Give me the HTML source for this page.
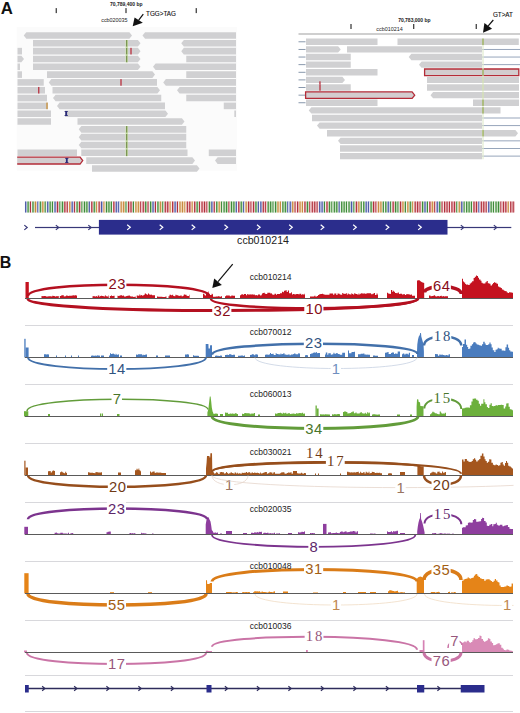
<!DOCTYPE html>
<html><head><meta charset="utf-8"><title>figure</title>
<style>
html,body{margin:0;padding:0;background:#fff;}
body{width:520px;height:713px;overflow:hidden;position:relative;font-family:"Liberation Sans",sans-serif;}
svg{position:absolute;left:0;top:0;display:block;}
</style></head><body>
<svg width="520" height="713" viewBox="0 0 520 713">
<defs><clipPath id="lclip"><rect x="17.2" y="20" width="230" height="160"/></clipPath></defs>
<rect x="16.8" y="27" width="220.2" height="143.6" fill="#fbfbfb"/>
<path d="M26.35 32.2 L129.4 32.2 L132 35.5 L129.4 38.8 L26.35 38.8 L23.75 35.5Z" fill="#d0d0d2"/>
<path d="M145.1 32.2 L236 32.2 L236 38.8 L145.1 38.8 L142.5 35.5Z" fill="#d0d0d2"/>
<path d="M33 40.02 L137.9 40.02 L140.5 43.32 L137.9 46.62 L33 46.62Z" fill="#d0d0d2"/>
<path d="M183.85 40.02 L236 40.02 L236 46.62 L183.85 46.62 L181.25 43.32Z" fill="#d0d0d2"/>
<path d="M17.5 47.84 L22 47.84 L22 54.44 L17.5 54.44Z" fill="#d0d0d2"/>
<path d="M33 47.84 L137.9 47.84 L140.5 51.14 L137.9 54.44 L33 54.44Z" fill="#d0d0d2"/>
<path d="M183.85 47.84 L236 47.84 L236 54.44 L183.85 54.44 L181.25 51.14Z" fill="#d0d0d2"/>
<path d="M17.5 55.66 L21.4 55.66 L24 58.96 L21.4 62.26 L17.5 62.26Z" fill="#d0d0d2"/>
<path d="M33 55.66 L137.9 55.66 L140.5 58.96 L137.9 62.26 L33 62.26Z" fill="#d0d0d2"/>
<path d="M186.25 55.66 L236 55.66 L236 62.26 L186.25 62.26Z" fill="#d0d0d2"/>
<path d="M17.5 63.48 L20 63.48 L20 70.08 L17.5 70.08Z" fill="#d0d0d2"/>
<path d="M33 63.48 L137.9 63.48 L140.5 66.78 L137.9 70.08 L33 70.08Z" fill="#d0d0d2"/>
<path d="M155.6 63.48 L236 63.48 L236 70.08 L155.6 70.08 L153 66.78Z" fill="#d0d0d2"/>
<path d="M17.5 71.3 L22 71.3 L22 77.9 L17.5 77.9Z" fill="#d0d0d2"/>
<path d="M47 71.3 L152.4 71.3 L155 74.6 L152.4 77.9 L47 77.9Z" fill="#d0d0d2"/>
<path d="M186.25 71.3 L236 71.3 L236 77.9 L186.25 77.9Z" fill="#d0d0d2"/>
<path d="M17.5 79.12 L43.75 79.12 L43.75 85.72 L17.5 85.72Z" fill="#d0d0d2"/>
<path d="M51.35 79.12 L157 79.12 L157 85.72 L51.35 85.72 L48.75 82.42Z" fill="#d0d0d2"/>
<path d="M165.85 79.12 L236 79.12 L236 85.72 L165.85 85.72 L163.25 82.42Z" fill="#d0d0d2"/>
<path d="M17.5 86.94 L45 86.94 L45 93.54 L17.5 93.54Z" fill="#d0d0d2"/>
<path d="M52.5 86.94 L157.4 86.94 L160 90.24 L157.4 93.54 L52.5 93.54Z" fill="#d0d0d2"/>
<path d="M179.6 86.94 L236 86.94 L236 93.54 L179.6 93.54 L177 90.24Z" fill="#d0d0d2"/>
<path d="M17.5 94.76 L47 94.76 L47 101.36 L17.5 101.36Z" fill="#d0d0d2"/>
<path d="M55.6 94.76 L161.25 94.76 L161.25 101.36 L55.6 101.36 L53 98.06Z" fill="#d0d0d2"/>
<path d="M186.25 94.76 L236 94.76 L236 101.36 L186.25 101.36Z" fill="#d0d0d2"/>
<path d="M17.5 102.58 L48 102.58 L48 109.18 L17.5 109.18Z" fill="#d0d0d2"/>
<path d="M59.6 102.58 L165 102.58 L165 109.18 L59.6 109.18 L57 105.88Z" fill="#d0d0d2"/>
<path d="M223.75 102.58 L236 102.58 L236 109.18 L223.75 109.18Z" fill="#d0d0d2"/>
<path d="M17.5 110.4 L51 110.4 L51 117 L17.5 117Z" fill="#d0d0d2"/>
<path d="M65 110.4 L165.4 110.4 L168 113.7 L165.4 117 L65 117Z" fill="#d0d0d2"/>
<path d="M234.3 110.4 L236 110.4 L236 117 L234.3 117Z" fill="#d0d0d2"/>
<path d="M17.5 118.22 L51 118.22 L51 124.82 L17.5 124.82Z" fill="#d0d0d2"/>
<path d="M77.5 118.22 L181.9 118.22 L184.5 121.52 L181.9 124.82 L77.5 124.82Z" fill="#d0d0d2"/>
<path d="M81.35 126.04 L186.25 126.04 L186.25 132.64 L81.35 132.64 L78.75 129.34Z" fill="#d0d0d2"/>
<path d="M81.35 133.86 L186.25 133.86 L186.25 140.46 L81.35 140.46 L78.75 137.16Z" fill="#d0d0d2"/>
<path d="M81.35 141.68 L186.25 141.68 L186.25 148.28 L81.35 148.28 L78.75 144.98Z" fill="#d0d0d2"/>
<path d="M17.5 149.5 L77 149.5 L77 156.1 L17.5 156.1Z" fill="#d0d0d2"/>
<path d="M81.25 149.5 L187.5 149.5 L187.5 156.1 L81.25 156.1Z" fill="#d0d0d2"/>
<path d="M208.75 149.5 L236 149.5 L236 156.1 L208.75 156.1Z" fill="#d0d0d2"/>
<path d="M12.1 157.22 L80.1 157.22 L82.7 160.62 L80.1 164.02 L12.1 164.02Z" fill="#d3cdcf" stroke="#b42c38" stroke-width="1.3" clip-path="url(#lclip)"/>
<path d="M86.25 157.32 L192.4 157.32 L195 160.62 L192.4 163.92 L86.25 163.92Z" fill="#d0d0d2"/>
<path d="M217.6 157.32 L236 157.32 L236 163.92 L217.6 163.92 L215 160.62Z" fill="#d0d0d2"/>
<path d="M92 165.14 L196.9 165.14 L199.5 168.44 L196.9 171.74 L92 171.74Z" fill="#d0d0d2"/>
<rect x="125.45" y="40.02" width="2.6" height="22.24" fill="#d4e8b8"/>
<rect x="125.45" y="126.04" width="2.6" height="30.06" fill="#d4e8b8"/>
<rect x="126.2" y="40.02" width="1.1" height="6.6" fill="#66803c"/>
<rect x="126.2" y="47.84" width="1.1" height="6.6" fill="#66803c"/>
<rect x="126.2" y="55.66" width="1.1" height="6.6" fill="#66803c"/>
<rect x="126.2" y="126.04" width="1.1" height="6.6" fill="#66803c"/>
<rect x="126.2" y="133.86" width="1.1" height="6.6" fill="#66803c"/>
<rect x="126.2" y="141.68" width="1.1" height="6.6" fill="#66803c"/>
<rect x="126.2" y="149.5" width="1.1" height="6.6" fill="#66803c"/>
<rect x="130.35" y="47.84" width="1.3" height="6.6" fill="#b83040"/>
<rect x="120.35" y="79.12" width="1.3" height="6.6" fill="#b83040"/>
<rect x="38.1" y="86.94" width="1.3" height="6.6" fill="#b83040"/>
<rect x="46.35" y="102.58" width="1.3" height="6.6" fill="#c8903a"/>
<rect x="65.3" y="111.2" width="1.8" height="4.6" fill="#2a2a78"/>
<rect x="64.6" y="111" width="3.2" height="0.9" fill="#2a2a78"/>
<rect x="64.6" y="115.1" width="3.2" height="0.9" fill="#2a2a78"/>
<rect x="65.9" y="158.12" width="1.8" height="4.6" fill="#2a2a78"/>
<rect x="65.2" y="157.92" width="3.2" height="0.9" fill="#2a2a78"/>
<rect x="65.2" y="162.02" width="3.2" height="0.9" fill="#2a2a78"/>
<rect x="298.5" y="33.2" width="221.5" height="1.6" fill="#c4c4c4"/>
<rect x="298.5" y="41.35" width="7" height="0.9" fill="#7d8ea4"/>
<rect x="298.5" y="48.97" width="7" height="0.9" fill="#7d8ea4"/>
<rect x="298.5" y="56.59" width="7" height="0.9" fill="#7d8ea4"/>
<rect x="298.5" y="64.21" width="7" height="0.9" fill="#7d8ea4"/>
<rect x="298.5" y="71.83" width="7" height="0.9" fill="#7d8ea4"/>
<rect x="298.5" y="79.45" width="7" height="0.9" fill="#7d8ea4"/>
<rect x="298.5" y="87.07" width="7" height="0.9" fill="#7d8ea4"/>
<rect x="298.5" y="94.69" width="7" height="0.9" fill="#7d8ea4"/>
<rect x="298.5" y="102.31" width="7" height="0.9" fill="#7d8ea4"/>
<rect x="482" y="48.97" width="38" height="0.9" fill="#8c9cb4"/>
<rect x="482" y="56.59" width="38" height="0.9" fill="#8c9cb4"/>
<rect x="482" y="64.21" width="38" height="0.9" fill="#8c9cb4"/>
<rect x="482" y="117.55" width="38" height="0.9" fill="#8c9cb4"/>
<rect x="482" y="125.17" width="38" height="0.9" fill="#8c9cb4"/>
<rect x="482" y="140.41" width="38" height="0.9" fill="#8c9cb4"/>
<rect x="482" y="148.03" width="38" height="0.9" fill="#8c9cb4"/>
<rect x="482" y="155.65" width="38" height="0.9" fill="#8c9cb4"/>
<path d="M306 38.6 L377.5 38.6 L377.5 45 L306 45Z" fill="#d0d0d2"/>
<path d="M397.5 38.6 L518.8 38.6 L518.8 45 L397.5 45Z" fill="#d0d0d2"/>
<path d="M306 46.22 L338.15 46.22 L340.75 49.42 L338.15 52.62 L306 52.62Z" fill="#d0d0d2"/>
<path d="M347 46.22 L482 46.22 L482 52.62 L347 52.62Z" fill="#d0d0d2"/>
<path d="M306 53.84 L350.75 53.84 L350.75 60.24 L306 60.24Z" fill="#d0d0d2"/>
<path d="M411.35 53.84 L482 53.84 L482 60.24 L411.35 60.24 L408.75 57.04Z" fill="#d0d0d2"/>
<path d="M306 61.46 L350.75 61.46 L350.75 67.86 L306 67.86Z" fill="#d0d0d2"/>
<path d="M421.6 61.46 L482 61.46 L482 67.86 L421.6 67.86 L419 64.66Z" fill="#d0d0d2"/>
<path d="M306 69.08 L377.5 69.08 L377.5 75.48 L306 75.48Z" fill="#d0d0d2"/>
<path d="M424.6 68.98 L518.8 68.98 L518.8 75.58 L424.6 75.58Z" fill="#d3cdcf" stroke="#b42c38" stroke-width="1.3"/>
<path d="M306 76.7 L342.4 76.7 L345 79.9 L342.4 83.1 L306 83.1Z" fill="#d0d0d2"/>
<path d="M427 76.7 L519 76.7 L519 83.1 L427 83.1Z" fill="#d0d0d2"/>
<path d="M306 84.32 L350.75 84.32 L350.75 90.72 L306 90.72Z" fill="#d0d0d2"/>
<path d="M427 84.32 L519 84.32 L519 90.72 L427 90.72Z" fill="#d0d0d2"/>
<path d="M305.6 91.84 L412.1 91.84 L414.7 95.14 L412.1 98.44 L305.6 98.44Z" fill="#d3cdcf" stroke="#b42c38" stroke-width="1.3"/>
<path d="M433.1 91.94 L519 91.94 L519 98.34 L433.1 98.34 L430.5 95.14Z" fill="#d0d0d2"/>
<path d="M306 99.56 L377.5 99.56 L377.5 105.96 L306 105.96Z" fill="#d0d0d2"/>
<path d="M473 99.56 L519 99.56 L519 105.96 L473 105.96Z" fill="#d0d0d2"/>
<path d="M311.35 107.18 L500.5 107.18 L500.5 113.58 L311.35 113.58 L308.75 110.38Z" fill="#d0d0d2"/>
<path d="M312 114.8 L482 114.8 L482 121.2 L312 121.2Z" fill="#d0d0d2"/>
<path d="M319.6 122.42 L482 122.42 L482 128.82 L319.6 128.82 L317 125.62Z" fill="#d0d0d2"/>
<path d="M327 130.04 L482 130.04 L482 136.44 L327 136.44Z" fill="#d0d0d2"/>
<path d="M483 130.04 L515.4 130.04 L518 133.24 L515.4 136.44 L483 136.44Z" fill="#d0d0d2"/>
<path d="M340.6 137.66 L482 137.66 L482 144.06 L340.6 144.06 L338 140.86Z" fill="#d0d0d2"/>
<path d="M340 145.28 L482 145.28 L482 151.68 L340 151.68Z" fill="#d0d0d2"/>
<path d="M340 152.9 L482 152.9 L482 159.3 L340 159.3Z" fill="#d0d0d2"/>
<rect x="482.4" y="38.6" width="1.2" height="120.7" fill="#e2ecd0"/>
<rect x="482.45" y="38.6" width="1.1" height="6.4" fill="#8aa040"/>
<rect x="482.45" y="69.08" width="1.1" height="6.4" fill="#8aa040"/>
<rect x="482.45" y="99.56" width="1.1" height="6.4" fill="#8aa040"/>
<rect x="482.45" y="107.18" width="1.1" height="6.4" fill="#8aa040"/>
<rect x="482.45" y="130.04" width="1.1" height="6.4" fill="#8aa040"/>
<rect x="482.6" y="76.7" width="0.8" height="6.4" fill="#c8d8a0"/>
<rect x="482.6" y="84.32" width="0.8" height="6.4" fill="#c8d8a0"/>
<rect x="482.6" y="91.94" width="0.8" height="6.4" fill="#c8d8a0"/>
<rect x="319.35" y="84.32" width="1.3" height="6.4" fill="#b83040"/>
<rect x="319.3" y="81.32" width="1.3" height="3" fill="#b83040"/>
<text x="0.8" y="13.8" font-family="Liberation Sans, sans-serif" font-size="16.8" font-weight="bold" fill="#111">A</text>
<rect x="55.65" y="8.1" width="1.2" height="5" fill="#333"/>
<rect x="125.4" y="8.1" width="1.2" height="5" fill="#333"/>
<rect x="195.65" y="8.1" width="1.2" height="5" fill="#333"/>
<text x="126.3" y="6.3" font-family="Liberation Sans, sans-serif" font-size="5" font-weight="bold" text-anchor="middle" fill="#222">70,789,400 bp</text>
<text x="114.4" y="22.4" font-family="Liberation Sans, sans-serif" font-size="5.4" text-anchor="middle" fill="#222">ccb020035</text>
<text x="146.1" y="16.3" font-family="Liberation Sans, sans-serif" font-size="6.3" fill="#111" stroke="#111" stroke-width="0.12">TGG&gt;TAG</text>
<rect x="350.4" y="24" width="1.2" height="5" fill="#333"/>
<rect x="413.1" y="24" width="1.2" height="5" fill="#333"/>
<rect x="475.65" y="24" width="1.2" height="5" fill="#333"/>
<text x="414.4" y="21.6" font-family="Liberation Sans, sans-serif" font-size="5" font-weight="bold" text-anchor="middle" fill="#222">70,783,000 bp</text>
<text x="389.5" y="30.8" font-family="Liberation Sans, sans-serif" font-size="5.4" text-anchor="middle" fill="#222">ccb010214</text>
<text x="492.9" y="16.6" font-family="Liberation Sans, sans-serif" font-size="6.3" fill="#111" stroke="#111" stroke-width="0.12">GT&gt;AT</text>
<line x1="143.3" y1="14.1" x2="138.7" y2="20.15" stroke="#111" stroke-width="1.2"/>
<path d="M132.7 26.3 L134.6 17.5 L142.8 22.8 Z" fill="#111"/>
<line x1="493.3" y1="20" x2="488.25" y2="25.9" stroke="#111" stroke-width="1.2"/>
<path d="M483 32.7 L484.4 23 L492.1 28.8 Z" fill="#111"/>
<rect x="24.9" y="201.5" width="2.45" height="11" fill="#c8cce8"/>
<rect x="25.05" y="201.5" width="1.15" height="11" fill="#4a5aa8"/>
<rect x="27.35" y="201.5" width="2.45" height="11" fill="#c4e0bc"/>
<rect x="27.5" y="201.5" width="1.15" height="11" fill="#3e8a3a"/>
<rect x="29.8" y="201.5" width="2.45" height="11" fill="#eec0c4"/>
<rect x="29.95" y="201.5" width="1.15" height="11" fill="#b0303c"/>
<rect x="31.2" y="201.5" width="0.9" height="11" fill="#fbf8f8"/>
<rect x="32.25" y="201.5" width="2.45" height="11" fill="#c4e0bc"/>
<rect x="32.4" y="201.5" width="1.15" height="11" fill="#3e8a3a"/>
<rect x="34.7" y="201.5" width="2.45" height="11" fill="#f0d8b8"/>
<rect x="34.85" y="201.5" width="1.15" height="11" fill="#c88a40"/>
<rect x="37.15" y="201.5" width="2.45" height="11" fill="#c8cce8"/>
<rect x="37.3" y="201.5" width="1.15" height="11" fill="#4a5aa8"/>
<rect x="38.55" y="201.5" width="0.9" height="11" fill="#fbf8f8"/>
<rect x="39.6" y="201.5" width="2.45" height="11" fill="#c4e0bc"/>
<rect x="39.75" y="201.5" width="1.15" height="11" fill="#3e8a3a"/>
<rect x="42.05" y="201.5" width="2.45" height="11" fill="#f0d8b8"/>
<rect x="42.2" y="201.5" width="1.15" height="11" fill="#c88a40"/>
<rect x="44.5" y="201.5" width="2.45" height="11" fill="#c4e0bc"/>
<rect x="44.65" y="201.5" width="1.15" height="11" fill="#3e8a3a"/>
<rect x="45.9" y="201.5" width="0.9" height="11" fill="#fbf8f8"/>
<rect x="46.95" y="201.5" width="2.45" height="11" fill="#c8cce8"/>
<rect x="47.1" y="201.5" width="1.15" height="11" fill="#4a5aa8"/>
<rect x="49.4" y="201.5" width="2.45" height="11" fill="#c4e0bc"/>
<rect x="49.55" y="201.5" width="1.15" height="11" fill="#3e8a3a"/>
<rect x="51.85" y="201.5" width="2.45" height="11" fill="#c4e0bc"/>
<rect x="52" y="201.5" width="1.15" height="11" fill="#3e8a3a"/>
<rect x="53.25" y="201.5" width="0.9" height="11" fill="#fbf8f8"/>
<rect x="54.3" y="201.5" width="2.45" height="11" fill="#c8cce8"/>
<rect x="54.45" y="201.5" width="1.15" height="11" fill="#4a5aa8"/>
<rect x="56.75" y="201.5" width="2.45" height="11" fill="#eec0c4"/>
<rect x="56.9" y="201.5" width="1.15" height="11" fill="#b0303c"/>
<rect x="59.2" y="201.5" width="2.45" height="11" fill="#c4e0bc"/>
<rect x="59.35" y="201.5" width="1.15" height="11" fill="#3e8a3a"/>
<rect x="60.6" y="201.5" width="0.9" height="11" fill="#fbf8f8"/>
<rect x="61.65" y="201.5" width="2.45" height="11" fill="#c4e0bc"/>
<rect x="61.8" y="201.5" width="1.15" height="11" fill="#3e8a3a"/>
<rect x="64.1" y="201.5" width="2.45" height="11" fill="#eec0c4"/>
<rect x="64.25" y="201.5" width="1.15" height="11" fill="#b0303c"/>
<rect x="66.55" y="201.5" width="2.45" height="11" fill="#eec0c4"/>
<rect x="66.7" y="201.5" width="1.15" height="11" fill="#b0303c"/>
<rect x="67.95" y="201.5" width="0.9" height="11" fill="#fbf8f8"/>
<rect x="69" y="201.5" width="2.45" height="11" fill="#f0d8b8"/>
<rect x="69.15" y="201.5" width="1.15" height="11" fill="#c88a40"/>
<rect x="71.45" y="201.5" width="2.45" height="11" fill="#c8cce8"/>
<rect x="71.6" y="201.5" width="1.15" height="11" fill="#4a5aa8"/>
<rect x="73.9" y="201.5" width="2.45" height="11" fill="#eec0c4"/>
<rect x="74.05" y="201.5" width="1.15" height="11" fill="#b0303c"/>
<rect x="75.3" y="201.5" width="0.9" height="11" fill="#fbf8f8"/>
<rect x="76.35" y="201.5" width="2.45" height="11" fill="#c4e0bc"/>
<rect x="76.5" y="201.5" width="1.15" height="11" fill="#3e8a3a"/>
<rect x="78.8" y="201.5" width="2.45" height="11" fill="#eec0c4"/>
<rect x="78.95" y="201.5" width="1.15" height="11" fill="#b0303c"/>
<rect x="81.25" y="201.5" width="2.45" height="11" fill="#c4e0bc"/>
<rect x="81.4" y="201.5" width="1.15" height="11" fill="#3e8a3a"/>
<rect x="82.65" y="201.5" width="0.9" height="11" fill="#fbf8f8"/>
<rect x="83.7" y="201.5" width="2.45" height="11" fill="#c4e0bc"/>
<rect x="83.85" y="201.5" width="1.15" height="11" fill="#3e8a3a"/>
<rect x="86.15" y="201.5" width="2.45" height="11" fill="#c4e0bc"/>
<rect x="86.3" y="201.5" width="1.15" height="11" fill="#3e8a3a"/>
<rect x="88.6" y="201.5" width="2.45" height="11" fill="#c8cce8"/>
<rect x="88.75" y="201.5" width="1.15" height="11" fill="#4a5aa8"/>
<rect x="90" y="201.5" width="0.9" height="11" fill="#fbf8f8"/>
<rect x="91.05" y="201.5" width="2.45" height="11" fill="#eec0c4"/>
<rect x="91.2" y="201.5" width="1.15" height="11" fill="#b0303c"/>
<rect x="93.5" y="201.5" width="2.45" height="11" fill="#c4e0bc"/>
<rect x="93.65" y="201.5" width="1.15" height="11" fill="#3e8a3a"/>
<rect x="95.95" y="201.5" width="2.45" height="11" fill="#f0d8b8"/>
<rect x="96.1" y="201.5" width="1.15" height="11" fill="#c88a40"/>
<rect x="97.35" y="201.5" width="0.9" height="11" fill="#fbf8f8"/>
<rect x="98.4" y="201.5" width="2.45" height="11" fill="#eec0c4"/>
<rect x="98.55" y="201.5" width="1.15" height="11" fill="#b0303c"/>
<rect x="100.85" y="201.5" width="2.45" height="11" fill="#c8cce8"/>
<rect x="101" y="201.5" width="1.15" height="11" fill="#4a5aa8"/>
<rect x="103.3" y="201.5" width="2.45" height="11" fill="#f0d8b8"/>
<rect x="103.45" y="201.5" width="1.15" height="11" fill="#c88a40"/>
<rect x="104.7" y="201.5" width="0.9" height="11" fill="#fbf8f8"/>
<rect x="105.75" y="201.5" width="2.45" height="11" fill="#c4e0bc"/>
<rect x="105.9" y="201.5" width="1.15" height="11" fill="#3e8a3a"/>
<rect x="108.2" y="201.5" width="2.45" height="11" fill="#c4e0bc"/>
<rect x="108.35" y="201.5" width="1.15" height="11" fill="#3e8a3a"/>
<rect x="110.65" y="201.5" width="2.45" height="11" fill="#c4e0bc"/>
<rect x="110.8" y="201.5" width="1.15" height="11" fill="#3e8a3a"/>
<rect x="112.05" y="201.5" width="0.9" height="11" fill="#fbf8f8"/>
<rect x="113.1" y="201.5" width="2.45" height="11" fill="#eec0c4"/>
<rect x="113.25" y="201.5" width="1.15" height="11" fill="#b0303c"/>
<rect x="115.55" y="201.5" width="2.45" height="11" fill="#c8cce8"/>
<rect x="115.7" y="201.5" width="1.15" height="11" fill="#4a5aa8"/>
<rect x="118" y="201.5" width="2.45" height="11" fill="#c8cce8"/>
<rect x="118.15" y="201.5" width="1.15" height="11" fill="#4a5aa8"/>
<rect x="119.4" y="201.5" width="0.9" height="11" fill="#fbf8f8"/>
<rect x="120.45" y="201.5" width="2.45" height="11" fill="#f0d8b8"/>
<rect x="120.6" y="201.5" width="1.15" height="11" fill="#c88a40"/>
<rect x="122.9" y="201.5" width="2.45" height="11" fill="#f0d8b8"/>
<rect x="123.05" y="201.5" width="1.15" height="11" fill="#c88a40"/>
<rect x="125.35" y="201.5" width="2.45" height="11" fill="#c4e0bc"/>
<rect x="125.5" y="201.5" width="1.15" height="11" fill="#3e8a3a"/>
<rect x="126.75" y="201.5" width="0.9" height="11" fill="#fbf8f8"/>
<rect x="127.8" y="201.5" width="2.45" height="11" fill="#eec0c4"/>
<rect x="127.95" y="201.5" width="1.15" height="11" fill="#b0303c"/>
<rect x="130.25" y="201.5" width="2.45" height="11" fill="#eec0c4"/>
<rect x="130.4" y="201.5" width="1.15" height="11" fill="#b0303c"/>
<rect x="132.7" y="201.5" width="2.45" height="11" fill="#c4e0bc"/>
<rect x="132.85" y="201.5" width="1.15" height="11" fill="#3e8a3a"/>
<rect x="134.1" y="201.5" width="0.9" height="11" fill="#fbf8f8"/>
<rect x="135.15" y="201.5" width="2.45" height="11" fill="#f0d8b8"/>
<rect x="135.3" y="201.5" width="1.15" height="11" fill="#c88a40"/>
<rect x="137.6" y="201.5" width="2.45" height="11" fill="#f0d8b8"/>
<rect x="137.75" y="201.5" width="1.15" height="11" fill="#c88a40"/>
<rect x="140.05" y="201.5" width="2.45" height="11" fill="#eec0c4"/>
<rect x="140.2" y="201.5" width="1.15" height="11" fill="#b0303c"/>
<rect x="141.45" y="201.5" width="0.9" height="11" fill="#fbf8f8"/>
<rect x="142.5" y="201.5" width="2.45" height="11" fill="#eec0c4"/>
<rect x="142.65" y="201.5" width="1.15" height="11" fill="#b0303c"/>
<rect x="144.95" y="201.5" width="2.45" height="11" fill="#c4e0bc"/>
<rect x="145.1" y="201.5" width="1.15" height="11" fill="#3e8a3a"/>
<rect x="147.4" y="201.5" width="2.45" height="11" fill="#eec0c4"/>
<rect x="147.55" y="201.5" width="1.15" height="11" fill="#b0303c"/>
<rect x="148.8" y="201.5" width="0.9" height="11" fill="#fbf8f8"/>
<rect x="149.85" y="201.5" width="2.45" height="11" fill="#c4e0bc"/>
<rect x="150" y="201.5" width="1.15" height="11" fill="#3e8a3a"/>
<rect x="152.3" y="201.5" width="2.45" height="11" fill="#c8cce8"/>
<rect x="152.45" y="201.5" width="1.15" height="11" fill="#4a5aa8"/>
<rect x="154.75" y="201.5" width="2.45" height="11" fill="#eec0c4"/>
<rect x="154.9" y="201.5" width="1.15" height="11" fill="#b0303c"/>
<rect x="156.15" y="201.5" width="0.9" height="11" fill="#fbf8f8"/>
<rect x="157.2" y="201.5" width="2.45" height="11" fill="#c4e0bc"/>
<rect x="157.35" y="201.5" width="1.15" height="11" fill="#3e8a3a"/>
<rect x="159.65" y="201.5" width="2.45" height="11" fill="#f0d8b8"/>
<rect x="159.8" y="201.5" width="1.15" height="11" fill="#c88a40"/>
<rect x="162.1" y="201.5" width="2.45" height="11" fill="#c4e0bc"/>
<rect x="162.25" y="201.5" width="1.15" height="11" fill="#3e8a3a"/>
<rect x="163.5" y="201.5" width="0.9" height="11" fill="#fbf8f8"/>
<rect x="164.55" y="201.5" width="2.45" height="11" fill="#eec0c4"/>
<rect x="164.7" y="201.5" width="1.15" height="11" fill="#b0303c"/>
<rect x="167" y="201.5" width="2.45" height="11" fill="#eec0c4"/>
<rect x="167.15" y="201.5" width="1.15" height="11" fill="#b0303c"/>
<rect x="169.45" y="201.5" width="2.45" height="11" fill="#f0d8b8"/>
<rect x="169.6" y="201.5" width="1.15" height="11" fill="#c88a40"/>
<rect x="170.85" y="201.5" width="0.9" height="11" fill="#fbf8f8"/>
<rect x="171.9" y="201.5" width="2.45" height="11" fill="#eec0c4"/>
<rect x="172.05" y="201.5" width="1.15" height="11" fill="#b0303c"/>
<rect x="174.35" y="201.5" width="2.45" height="11" fill="#c8cce8"/>
<rect x="174.5" y="201.5" width="1.15" height="11" fill="#4a5aa8"/>
<rect x="176.8" y="201.5" width="2.45" height="11" fill="#eec0c4"/>
<rect x="176.95" y="201.5" width="1.15" height="11" fill="#b0303c"/>
<rect x="178.2" y="201.5" width="0.9" height="11" fill="#fbf8f8"/>
<rect x="179.25" y="201.5" width="2.45" height="11" fill="#f0d8b8"/>
<rect x="179.4" y="201.5" width="1.15" height="11" fill="#c88a40"/>
<rect x="181.7" y="201.5" width="2.45" height="11" fill="#f0d8b8"/>
<rect x="181.85" y="201.5" width="1.15" height="11" fill="#c88a40"/>
<rect x="184.15" y="201.5" width="2.45" height="11" fill="#f0d8b8"/>
<rect x="184.3" y="201.5" width="1.15" height="11" fill="#c88a40"/>
<rect x="185.55" y="201.5" width="0.9" height="11" fill="#fbf8f8"/>
<rect x="186.6" y="201.5" width="2.45" height="11" fill="#eec0c4"/>
<rect x="186.75" y="201.5" width="1.15" height="11" fill="#b0303c"/>
<rect x="189.05" y="201.5" width="2.45" height="11" fill="#eec0c4"/>
<rect x="189.2" y="201.5" width="1.15" height="11" fill="#b0303c"/>
<rect x="191.5" y="201.5" width="2.45" height="11" fill="#f0d8b8"/>
<rect x="191.65" y="201.5" width="1.15" height="11" fill="#c88a40"/>
<rect x="192.9" y="201.5" width="0.9" height="11" fill="#fbf8f8"/>
<rect x="193.95" y="201.5" width="2.45" height="11" fill="#eec0c4"/>
<rect x="194.1" y="201.5" width="1.15" height="11" fill="#b0303c"/>
<rect x="196.4" y="201.5" width="2.45" height="11" fill="#c4e0bc"/>
<rect x="196.55" y="201.5" width="1.15" height="11" fill="#3e8a3a"/>
<rect x="198.85" y="201.5" width="2.45" height="11" fill="#eec0c4"/>
<rect x="199" y="201.5" width="1.15" height="11" fill="#b0303c"/>
<rect x="200.25" y="201.5" width="0.9" height="11" fill="#fbf8f8"/>
<rect x="201.3" y="201.5" width="2.45" height="11" fill="#eec0c4"/>
<rect x="201.45" y="201.5" width="1.15" height="11" fill="#b0303c"/>
<rect x="203.75" y="201.5" width="2.45" height="11" fill="#eec0c4"/>
<rect x="203.9" y="201.5" width="1.15" height="11" fill="#b0303c"/>
<rect x="206.2" y="201.5" width="2.45" height="11" fill="#eec0c4"/>
<rect x="206.35" y="201.5" width="1.15" height="11" fill="#b0303c"/>
<rect x="207.6" y="201.5" width="0.9" height="11" fill="#fbf8f8"/>
<rect x="208.65" y="201.5" width="2.45" height="11" fill="#c4e0bc"/>
<rect x="208.8" y="201.5" width="1.15" height="11" fill="#3e8a3a"/>
<rect x="211.1" y="201.5" width="2.45" height="11" fill="#c8cce8"/>
<rect x="211.25" y="201.5" width="1.15" height="11" fill="#4a5aa8"/>
<rect x="213.55" y="201.5" width="2.45" height="11" fill="#eec0c4"/>
<rect x="213.7" y="201.5" width="1.15" height="11" fill="#b0303c"/>
<rect x="214.95" y="201.5" width="0.9" height="11" fill="#fbf8f8"/>
<rect x="216" y="201.5" width="2.45" height="11" fill="#c4e0bc"/>
<rect x="216.15" y="201.5" width="1.15" height="11" fill="#3e8a3a"/>
<rect x="218.45" y="201.5" width="2.45" height="11" fill="#f0d8b8"/>
<rect x="218.6" y="201.5" width="1.15" height="11" fill="#c88a40"/>
<rect x="220.9" y="201.5" width="2.45" height="11" fill="#c4e0bc"/>
<rect x="221.05" y="201.5" width="1.15" height="11" fill="#3e8a3a"/>
<rect x="222.3" y="201.5" width="0.9" height="11" fill="#fbf8f8"/>
<rect x="223.35" y="201.5" width="2.45" height="11" fill="#c4e0bc"/>
<rect x="223.5" y="201.5" width="1.15" height="11" fill="#3e8a3a"/>
<rect x="225.8" y="201.5" width="2.45" height="11" fill="#c4e0bc"/>
<rect x="225.95" y="201.5" width="1.15" height="11" fill="#3e8a3a"/>
<rect x="228.25" y="201.5" width="2.45" height="11" fill="#eec0c4"/>
<rect x="228.4" y="201.5" width="1.15" height="11" fill="#b0303c"/>
<rect x="229.65" y="201.5" width="0.9" height="11" fill="#fbf8f8"/>
<rect x="230.7" y="201.5" width="2.45" height="11" fill="#c4e0bc"/>
<rect x="230.85" y="201.5" width="1.15" height="11" fill="#3e8a3a"/>
<rect x="233.15" y="201.5" width="2.45" height="11" fill="#c4e0bc"/>
<rect x="233.3" y="201.5" width="1.15" height="11" fill="#3e8a3a"/>
<rect x="235.6" y="201.5" width="2.45" height="11" fill="#c8cce8"/>
<rect x="235.75" y="201.5" width="1.15" height="11" fill="#4a5aa8"/>
<rect x="237" y="201.5" width="0.9" height="11" fill="#fbf8f8"/>
<rect x="238.05" y="201.5" width="2.45" height="11" fill="#eec0c4"/>
<rect x="238.2" y="201.5" width="1.15" height="11" fill="#b0303c"/>
<rect x="240.5" y="201.5" width="2.45" height="11" fill="#c4e0bc"/>
<rect x="240.65" y="201.5" width="1.15" height="11" fill="#3e8a3a"/>
<rect x="242.95" y="201.5" width="2.45" height="11" fill="#c8cce8"/>
<rect x="243.1" y="201.5" width="1.15" height="11" fill="#4a5aa8"/>
<rect x="244.35" y="201.5" width="0.9" height="11" fill="#fbf8f8"/>
<rect x="245.4" y="201.5" width="2.45" height="11" fill="#f0d8b8"/>
<rect x="245.55" y="201.5" width="1.15" height="11" fill="#c88a40"/>
<rect x="247.85" y="201.5" width="2.45" height="11" fill="#eec0c4"/>
<rect x="248" y="201.5" width="1.15" height="11" fill="#b0303c"/>
<rect x="250.3" y="201.5" width="2.45" height="11" fill="#eec0c4"/>
<rect x="250.45" y="201.5" width="1.15" height="11" fill="#b0303c"/>
<rect x="251.7" y="201.5" width="0.9" height="11" fill="#fbf8f8"/>
<rect x="252.75" y="201.5" width="2.45" height="11" fill="#eec0c4"/>
<rect x="252.9" y="201.5" width="1.15" height="11" fill="#b0303c"/>
<rect x="255.2" y="201.5" width="2.45" height="11" fill="#c4e0bc"/>
<rect x="255.35" y="201.5" width="1.15" height="11" fill="#3e8a3a"/>
<rect x="257.65" y="201.5" width="2.45" height="11" fill="#c8cce8"/>
<rect x="257.8" y="201.5" width="1.15" height="11" fill="#4a5aa8"/>
<rect x="259.05" y="201.5" width="0.9" height="11" fill="#fbf8f8"/>
<rect x="260.1" y="201.5" width="2.45" height="11" fill="#c8cce8"/>
<rect x="260.25" y="201.5" width="1.15" height="11" fill="#4a5aa8"/>
<rect x="262.55" y="201.5" width="2.45" height="11" fill="#eec0c4"/>
<rect x="262.7" y="201.5" width="1.15" height="11" fill="#b0303c"/>
<rect x="265" y="201.5" width="2.45" height="11" fill="#eec0c4"/>
<rect x="265.15" y="201.5" width="1.15" height="11" fill="#b0303c"/>
<rect x="266.4" y="201.5" width="0.9" height="11" fill="#fbf8f8"/>
<rect x="267.45" y="201.5" width="2.45" height="11" fill="#c4e0bc"/>
<rect x="267.6" y="201.5" width="1.15" height="11" fill="#3e8a3a"/>
<rect x="269.9" y="201.5" width="2.45" height="11" fill="#c4e0bc"/>
<rect x="270.05" y="201.5" width="1.15" height="11" fill="#3e8a3a"/>
<rect x="272.35" y="201.5" width="2.45" height="11" fill="#c4e0bc"/>
<rect x="272.5" y="201.5" width="1.15" height="11" fill="#3e8a3a"/>
<rect x="273.75" y="201.5" width="0.9" height="11" fill="#fbf8f8"/>
<rect x="274.8" y="201.5" width="2.45" height="11" fill="#c4e0bc"/>
<rect x="274.95" y="201.5" width="1.15" height="11" fill="#3e8a3a"/>
<rect x="277.25" y="201.5" width="2.45" height="11" fill="#f0d8b8"/>
<rect x="277.4" y="201.5" width="1.15" height="11" fill="#c88a40"/>
<rect x="279.7" y="201.5" width="2.45" height="11" fill="#f0d8b8"/>
<rect x="279.85" y="201.5" width="1.15" height="11" fill="#c88a40"/>
<rect x="281.1" y="201.5" width="0.9" height="11" fill="#fbf8f8"/>
<rect x="282.15" y="201.5" width="2.45" height="11" fill="#c4e0bc"/>
<rect x="282.3" y="201.5" width="1.15" height="11" fill="#3e8a3a"/>
<rect x="284.6" y="201.5" width="2.45" height="11" fill="#c4e0bc"/>
<rect x="284.75" y="201.5" width="1.15" height="11" fill="#3e8a3a"/>
<rect x="287.05" y="201.5" width="2.45" height="11" fill="#c8cce8"/>
<rect x="287.2" y="201.5" width="1.15" height="11" fill="#4a5aa8"/>
<rect x="288.45" y="201.5" width="0.9" height="11" fill="#fbf8f8"/>
<rect x="289.5" y="201.5" width="2.45" height="11" fill="#c8cce8"/>
<rect x="289.65" y="201.5" width="1.15" height="11" fill="#4a5aa8"/>
<rect x="291.95" y="201.5" width="2.45" height="11" fill="#f0d8b8"/>
<rect x="292.1" y="201.5" width="1.15" height="11" fill="#c88a40"/>
<rect x="294.4" y="201.5" width="2.45" height="11" fill="#eec0c4"/>
<rect x="294.55" y="201.5" width="1.15" height="11" fill="#b0303c"/>
<rect x="295.8" y="201.5" width="0.9" height="11" fill="#fbf8f8"/>
<rect x="296.85" y="201.5" width="2.45" height="11" fill="#eec0c4"/>
<rect x="297" y="201.5" width="1.15" height="11" fill="#b0303c"/>
<rect x="299.3" y="201.5" width="2.45" height="11" fill="#f0d8b8"/>
<rect x="299.45" y="201.5" width="1.15" height="11" fill="#c88a40"/>
<rect x="301.75" y="201.5" width="2.45" height="11" fill="#f0d8b8"/>
<rect x="301.9" y="201.5" width="1.15" height="11" fill="#c88a40"/>
<rect x="303.15" y="201.5" width="0.9" height="11" fill="#fbf8f8"/>
<rect x="304.2" y="201.5" width="2.45" height="11" fill="#eec0c4"/>
<rect x="304.35" y="201.5" width="1.15" height="11" fill="#b0303c"/>
<rect x="306.65" y="201.5" width="2.45" height="11" fill="#c4e0bc"/>
<rect x="306.8" y="201.5" width="1.15" height="11" fill="#3e8a3a"/>
<rect x="309.1" y="201.5" width="2.45" height="11" fill="#eec0c4"/>
<rect x="309.25" y="201.5" width="1.15" height="11" fill="#b0303c"/>
<rect x="310.5" y="201.5" width="0.9" height="11" fill="#fbf8f8"/>
<rect x="311.55" y="201.5" width="2.45" height="11" fill="#eec0c4"/>
<rect x="311.7" y="201.5" width="1.15" height="11" fill="#b0303c"/>
<rect x="314" y="201.5" width="2.45" height="11" fill="#eec0c4"/>
<rect x="314.15" y="201.5" width="1.15" height="11" fill="#b0303c"/>
<rect x="316.45" y="201.5" width="2.45" height="11" fill="#eec0c4"/>
<rect x="316.6" y="201.5" width="1.15" height="11" fill="#b0303c"/>
<rect x="317.85" y="201.5" width="0.9" height="11" fill="#fbf8f8"/>
<rect x="318.9" y="201.5" width="2.45" height="11" fill="#c8cce8"/>
<rect x="319.05" y="201.5" width="1.15" height="11" fill="#4a5aa8"/>
<rect x="321.35" y="201.5" width="2.45" height="11" fill="#c8cce8"/>
<rect x="321.5" y="201.5" width="1.15" height="11" fill="#4a5aa8"/>
<rect x="323.8" y="201.5" width="2.45" height="11" fill="#c4e0bc"/>
<rect x="323.95" y="201.5" width="1.15" height="11" fill="#3e8a3a"/>
<rect x="325.2" y="201.5" width="0.9" height="11" fill="#fbf8f8"/>
<rect x="326.25" y="201.5" width="2.45" height="11" fill="#eec0c4"/>
<rect x="326.4" y="201.5" width="1.15" height="11" fill="#b0303c"/>
<rect x="328.7" y="201.5" width="2.45" height="11" fill="#c4e0bc"/>
<rect x="328.85" y="201.5" width="1.15" height="11" fill="#3e8a3a"/>
<rect x="331.15" y="201.5" width="2.45" height="11" fill="#c4e0bc"/>
<rect x="331.3" y="201.5" width="1.15" height="11" fill="#3e8a3a"/>
<rect x="332.55" y="201.5" width="0.9" height="11" fill="#fbf8f8"/>
<rect x="333.6" y="201.5" width="2.45" height="11" fill="#c4e0bc"/>
<rect x="333.75" y="201.5" width="1.15" height="11" fill="#3e8a3a"/>
<rect x="336.05" y="201.5" width="2.45" height="11" fill="#c4e0bc"/>
<rect x="336.2" y="201.5" width="1.15" height="11" fill="#3e8a3a"/>
<rect x="338.5" y="201.5" width="2.45" height="11" fill="#c8cce8"/>
<rect x="338.65" y="201.5" width="1.15" height="11" fill="#4a5aa8"/>
<rect x="339.9" y="201.5" width="0.9" height="11" fill="#fbf8f8"/>
<rect x="340.95" y="201.5" width="2.45" height="11" fill="#c4e0bc"/>
<rect x="341.1" y="201.5" width="1.15" height="11" fill="#3e8a3a"/>
<rect x="343.4" y="201.5" width="2.45" height="11" fill="#c4e0bc"/>
<rect x="343.55" y="201.5" width="1.15" height="11" fill="#3e8a3a"/>
<rect x="345.85" y="201.5" width="2.45" height="11" fill="#c4e0bc"/>
<rect x="346" y="201.5" width="1.15" height="11" fill="#3e8a3a"/>
<rect x="347.25" y="201.5" width="0.9" height="11" fill="#fbf8f8"/>
<rect x="348.3" y="201.5" width="2.45" height="11" fill="#c4e0bc"/>
<rect x="348.45" y="201.5" width="1.15" height="11" fill="#3e8a3a"/>
<rect x="350.75" y="201.5" width="2.45" height="11" fill="#c8cce8"/>
<rect x="350.9" y="201.5" width="1.15" height="11" fill="#4a5aa8"/>
<rect x="353.2" y="201.5" width="2.45" height="11" fill="#c4e0bc"/>
<rect x="353.35" y="201.5" width="1.15" height="11" fill="#3e8a3a"/>
<rect x="354.6" y="201.5" width="0.9" height="11" fill="#fbf8f8"/>
<rect x="355.65" y="201.5" width="2.45" height="11" fill="#eec0c4"/>
<rect x="355.8" y="201.5" width="1.15" height="11" fill="#b0303c"/>
<rect x="358.1" y="201.5" width="2.45" height="11" fill="#f0d8b8"/>
<rect x="358.25" y="201.5" width="1.15" height="11" fill="#c88a40"/>
<rect x="360.55" y="201.5" width="2.45" height="11" fill="#c4e0bc"/>
<rect x="360.7" y="201.5" width="1.15" height="11" fill="#3e8a3a"/>
<rect x="361.95" y="201.5" width="0.9" height="11" fill="#fbf8f8"/>
<rect x="363" y="201.5" width="2.45" height="11" fill="#c4e0bc"/>
<rect x="363.15" y="201.5" width="1.15" height="11" fill="#3e8a3a"/>
<rect x="365.45" y="201.5" width="2.45" height="11" fill="#c8cce8"/>
<rect x="365.6" y="201.5" width="1.15" height="11" fill="#4a5aa8"/>
<rect x="367.9" y="201.5" width="2.45" height="11" fill="#c8cce8"/>
<rect x="368.05" y="201.5" width="1.15" height="11" fill="#4a5aa8"/>
<rect x="369.3" y="201.5" width="0.9" height="11" fill="#fbf8f8"/>
<rect x="370.35" y="201.5" width="2.45" height="11" fill="#c4e0bc"/>
<rect x="370.5" y="201.5" width="1.15" height="11" fill="#3e8a3a"/>
<rect x="372.8" y="201.5" width="2.45" height="11" fill="#eec0c4"/>
<rect x="372.95" y="201.5" width="1.15" height="11" fill="#b0303c"/>
<rect x="375.25" y="201.5" width="2.45" height="11" fill="#eec0c4"/>
<rect x="375.4" y="201.5" width="1.15" height="11" fill="#b0303c"/>
<rect x="376.65" y="201.5" width="0.9" height="11" fill="#fbf8f8"/>
<rect x="377.7" y="201.5" width="2.45" height="11" fill="#f0d8b8"/>
<rect x="377.85" y="201.5" width="1.15" height="11" fill="#c88a40"/>
<rect x="380.15" y="201.5" width="2.45" height="11" fill="#f0d8b8"/>
<rect x="380.3" y="201.5" width="1.15" height="11" fill="#c88a40"/>
<rect x="382.6" y="201.5" width="2.45" height="11" fill="#c4e0bc"/>
<rect x="382.75" y="201.5" width="1.15" height="11" fill="#3e8a3a"/>
<rect x="384" y="201.5" width="0.9" height="11" fill="#fbf8f8"/>
<rect x="385.05" y="201.5" width="2.45" height="11" fill="#c4e0bc"/>
<rect x="385.2" y="201.5" width="1.15" height="11" fill="#3e8a3a"/>
<rect x="387.5" y="201.5" width="2.45" height="11" fill="#c8cce8"/>
<rect x="387.65" y="201.5" width="1.15" height="11" fill="#4a5aa8"/>
<rect x="389.95" y="201.5" width="2.45" height="11" fill="#c4e0bc"/>
<rect x="390.1" y="201.5" width="1.15" height="11" fill="#3e8a3a"/>
<rect x="391.35" y="201.5" width="0.9" height="11" fill="#fbf8f8"/>
<rect x="392.4" y="201.5" width="2.45" height="11" fill="#eec0c4"/>
<rect x="392.55" y="201.5" width="1.15" height="11" fill="#b0303c"/>
<rect x="394.85" y="201.5" width="2.45" height="11" fill="#c4e0bc"/>
<rect x="395" y="201.5" width="1.15" height="11" fill="#3e8a3a"/>
<rect x="397.3" y="201.5" width="2.45" height="11" fill="#c4e0bc"/>
<rect x="397.45" y="201.5" width="1.15" height="11" fill="#3e8a3a"/>
<rect x="398.7" y="201.5" width="0.9" height="11" fill="#fbf8f8"/>
<rect x="399.75" y="201.5" width="2.45" height="11" fill="#eec0c4"/>
<rect x="399.9" y="201.5" width="1.15" height="11" fill="#b0303c"/>
<rect x="402.2" y="201.5" width="2.45" height="11" fill="#f0d8b8"/>
<rect x="402.35" y="201.5" width="1.15" height="11" fill="#c88a40"/>
<rect x="404.65" y="201.5" width="2.45" height="11" fill="#c4e0bc"/>
<rect x="404.8" y="201.5" width="1.15" height="11" fill="#3e8a3a"/>
<rect x="406.05" y="201.5" width="0.9" height="11" fill="#fbf8f8"/>
<rect x="407.1" y="201.5" width="2.45" height="11" fill="#f0d8b8"/>
<rect x="407.25" y="201.5" width="1.15" height="11" fill="#c88a40"/>
<rect x="409.55" y="201.5" width="2.45" height="11" fill="#c4e0bc"/>
<rect x="409.7" y="201.5" width="1.15" height="11" fill="#3e8a3a"/>
<rect x="412" y="201.5" width="2.45" height="11" fill="#f0d8b8"/>
<rect x="412.15" y="201.5" width="1.15" height="11" fill="#c88a40"/>
<rect x="413.4" y="201.5" width="0.9" height="11" fill="#fbf8f8"/>
<rect x="414.45" y="201.5" width="2.45" height="11" fill="#eec0c4"/>
<rect x="414.6" y="201.5" width="1.15" height="11" fill="#b0303c"/>
<rect x="416.9" y="201.5" width="2.45" height="11" fill="#eec0c4"/>
<rect x="417.05" y="201.5" width="1.15" height="11" fill="#b0303c"/>
<rect x="419.35" y="201.5" width="2.45" height="11" fill="#eec0c4"/>
<rect x="419.5" y="201.5" width="1.15" height="11" fill="#b0303c"/>
<rect x="420.75" y="201.5" width="0.9" height="11" fill="#fbf8f8"/>
<rect x="421.8" y="201.5" width="2.45" height="11" fill="#c4e0bc"/>
<rect x="421.95" y="201.5" width="1.15" height="11" fill="#3e8a3a"/>
<rect x="424.25" y="201.5" width="2.45" height="11" fill="#c8cce8"/>
<rect x="424.4" y="201.5" width="1.15" height="11" fill="#4a5aa8"/>
<rect x="426.7" y="201.5" width="2.45" height="11" fill="#c4e0bc"/>
<rect x="426.85" y="201.5" width="1.15" height="11" fill="#3e8a3a"/>
<rect x="428.1" y="201.5" width="0.9" height="11" fill="#fbf8f8"/>
<rect x="429.15" y="201.5" width="2.45" height="11" fill="#eec0c4"/>
<rect x="429.3" y="201.5" width="1.15" height="11" fill="#b0303c"/>
<rect x="431.6" y="201.5" width="2.45" height="11" fill="#f0d8b8"/>
<rect x="431.75" y="201.5" width="1.15" height="11" fill="#c88a40"/>
<rect x="434.05" y="201.5" width="2.45" height="11" fill="#eec0c4"/>
<rect x="434.2" y="201.5" width="1.15" height="11" fill="#b0303c"/>
<rect x="435.45" y="201.5" width="0.9" height="11" fill="#fbf8f8"/>
<rect x="436.5" y="201.5" width="2.45" height="11" fill="#c8cce8"/>
<rect x="436.65" y="201.5" width="1.15" height="11" fill="#4a5aa8"/>
<rect x="438.95" y="201.5" width="2.45" height="11" fill="#c4e0bc"/>
<rect x="439.1" y="201.5" width="1.15" height="11" fill="#3e8a3a"/>
<rect x="441.4" y="201.5" width="2.45" height="11" fill="#eec0c4"/>
<rect x="441.55" y="201.5" width="1.15" height="11" fill="#b0303c"/>
<rect x="442.8" y="201.5" width="0.9" height="11" fill="#fbf8f8"/>
<rect x="443.85" y="201.5" width="2.45" height="11" fill="#eec0c4"/>
<rect x="444" y="201.5" width="1.15" height="11" fill="#b0303c"/>
<rect x="446.3" y="201.5" width="2.45" height="11" fill="#eec0c4"/>
<rect x="446.45" y="201.5" width="1.15" height="11" fill="#b0303c"/>
<rect x="448.75" y="201.5" width="2.45" height="11" fill="#eec0c4"/>
<rect x="448.9" y="201.5" width="1.15" height="11" fill="#b0303c"/>
<rect x="450.15" y="201.5" width="0.9" height="11" fill="#fbf8f8"/>
<rect x="451.2" y="201.5" width="2.45" height="11" fill="#eec0c4"/>
<rect x="451.35" y="201.5" width="1.15" height="11" fill="#b0303c"/>
<rect x="453.65" y="201.5" width="2.45" height="11" fill="#eec0c4"/>
<rect x="453.8" y="201.5" width="1.15" height="11" fill="#b0303c"/>
<rect x="456.1" y="201.5" width="2.45" height="11" fill="#c4e0bc"/>
<rect x="456.25" y="201.5" width="1.15" height="11" fill="#3e8a3a"/>
<rect x="457.5" y="201.5" width="0.9" height="11" fill="#fbf8f8"/>
<rect x="458.55" y="201.5" width="2.45" height="11" fill="#f0d8b8"/>
<rect x="458.7" y="201.5" width="1.15" height="11" fill="#c88a40"/>
<rect x="461" y="201.5" width="2.45" height="11" fill="#c8cce8"/>
<rect x="461.15" y="201.5" width="1.15" height="11" fill="#4a5aa8"/>
<rect x="463.45" y="201.5" width="2.45" height="11" fill="#c4e0bc"/>
<rect x="463.6" y="201.5" width="1.15" height="11" fill="#3e8a3a"/>
<rect x="464.85" y="201.5" width="0.9" height="11" fill="#fbf8f8"/>
<rect x="465.9" y="201.5" width="2.45" height="11" fill="#c4e0bc"/>
<rect x="466.05" y="201.5" width="1.15" height="11" fill="#3e8a3a"/>
<rect x="468.35" y="201.5" width="2.45" height="11" fill="#c4e0bc"/>
<rect x="468.5" y="201.5" width="1.15" height="11" fill="#3e8a3a"/>
<rect x="470.8" y="201.5" width="2.45" height="11" fill="#c4e0bc"/>
<rect x="470.95" y="201.5" width="1.15" height="11" fill="#3e8a3a"/>
<rect x="472.2" y="201.5" width="0.9" height="11" fill="#fbf8f8"/>
<rect x="473.25" y="201.5" width="2.45" height="11" fill="#eec0c4"/>
<rect x="473.4" y="201.5" width="1.15" height="11" fill="#b0303c"/>
<rect x="475.7" y="201.5" width="2.45" height="11" fill="#eec0c4"/>
<rect x="475.85" y="201.5" width="1.15" height="11" fill="#b0303c"/>
<rect x="478.15" y="201.5" width="2.45" height="11" fill="#c8cce8"/>
<rect x="478.3" y="201.5" width="1.15" height="11" fill="#4a5aa8"/>
<rect x="479.55" y="201.5" width="0.9" height="11" fill="#fbf8f8"/>
<rect x="480.6" y="201.5" width="2.45" height="11" fill="#eec0c4"/>
<rect x="480.75" y="201.5" width="1.15" height="11" fill="#b0303c"/>
<rect x="483.05" y="201.5" width="2.45" height="11" fill="#eec0c4"/>
<rect x="483.2" y="201.5" width="1.15" height="11" fill="#b0303c"/>
<rect x="485.5" y="201.5" width="2.45" height="11" fill="#eec0c4"/>
<rect x="485.65" y="201.5" width="1.15" height="11" fill="#b0303c"/>
<rect x="486.9" y="201.5" width="0.9" height="11" fill="#fbf8f8"/>
<rect x="487.95" y="201.5" width="2.45" height="11" fill="#c8cce8"/>
<rect x="488.1" y="201.5" width="1.15" height="11" fill="#4a5aa8"/>
<rect x="490.4" y="201.5" width="2.45" height="11" fill="#c4e0bc"/>
<rect x="490.55" y="201.5" width="1.15" height="11" fill="#3e8a3a"/>
<rect x="492.85" y="201.5" width="2.45" height="11" fill="#c4e0bc"/>
<rect x="493" y="201.5" width="1.15" height="11" fill="#3e8a3a"/>
<rect x="494.25" y="201.5" width="0.9" height="11" fill="#fbf8f8"/>
<rect x="495.3" y="201.5" width="2.45" height="11" fill="#c4e0bc"/>
<rect x="495.45" y="201.5" width="1.15" height="11" fill="#3e8a3a"/>
<rect x="497.75" y="201.5" width="2.45" height="11" fill="#c4e0bc"/>
<rect x="497.9" y="201.5" width="1.15" height="11" fill="#3e8a3a"/>
<rect x="500.2" y="201.5" width="2.45" height="11" fill="#eec0c4"/>
<rect x="500.35" y="201.5" width="1.15" height="11" fill="#b0303c"/>
<rect x="501.6" y="201.5" width="0.9" height="11" fill="#fbf8f8"/>
<rect x="502.65" y="201.5" width="2.45" height="11" fill="#eec0c4"/>
<rect x="502.8" y="201.5" width="1.15" height="11" fill="#b0303c"/>
<rect x="505.1" y="201.5" width="2.45" height="11" fill="#eec0c4"/>
<rect x="505.25" y="201.5" width="1.15" height="11" fill="#b0303c"/>
<rect x="507.55" y="201.5" width="2.45" height="11" fill="#f0d8b8"/>
<rect x="507.7" y="201.5" width="1.15" height="11" fill="#c88a40"/>
<rect x="508.95" y="201.5" width="0.9" height="11" fill="#fbf8f8"/>
<rect x="510" y="201.5" width="2.45" height="11" fill="#eec0c4"/>
<rect x="510.15" y="201.5" width="1.15" height="11" fill="#b0303c"/>
<rect x="512.45" y="201.5" width="2.45" height="11" fill="#eec0c4"/>
<rect x="512.6" y="201.5" width="1.15" height="11" fill="#b0303c"/>
<rect x="35" y="226.9" width="476.3" height="1.2" fill="#383878"/>
<path d="M24.32 225.1 L27.2 227.5 L24.32 229.9" fill="none" stroke="#383878" stroke-width="1.2" stroke-linejoin="miter"/>
<path d="M55.82 225.1 L58.7 227.5 L55.82 229.9" fill="none" stroke="#383878" stroke-width="1.2" stroke-linejoin="miter"/>
<path d="M88.32 225.1 L91.2 227.5 L88.32 229.9" fill="none" stroke="#383878" stroke-width="1.2" stroke-linejoin="miter"/>
<path d="M460.82 225.1 L463.7 227.5 L460.82 229.9" fill="none" stroke="#383878" stroke-width="1.2" stroke-linejoin="miter"/>
<path d="M493.82 225.1 L496.7 227.5 L493.82 229.9" fill="none" stroke="#383878" stroke-width="1.2" stroke-linejoin="miter"/>
<rect x="98.9" y="219.9" width="348.6" height="14.7" fill="#2b2d8c"/>
<path d="M127.18 224.7 L130.3 227.3 L127.18 229.9" fill="none" stroke="#ffffff" stroke-width="1.2" stroke-linejoin="miter"/>
<path d="M159.68 224.7 L162.8 227.3 L159.68 229.9" fill="none" stroke="#ffffff" stroke-width="1.2" stroke-linejoin="miter"/>
<path d="M191.68 224.7 L194.8 227.3 L191.68 229.9" fill="none" stroke="#ffffff" stroke-width="1.2" stroke-linejoin="miter"/>
<path d="M224.48 224.7 L227.6 227.3 L224.48 229.9" fill="none" stroke="#ffffff" stroke-width="1.2" stroke-linejoin="miter"/>
<path d="M256.98 224.7 L260.1 227.3 L256.98 229.9" fill="none" stroke="#ffffff" stroke-width="1.2" stroke-linejoin="miter"/>
<path d="M289.18 224.7 L292.3 227.3 L289.18 229.9" fill="none" stroke="#ffffff" stroke-width="1.2" stroke-linejoin="miter"/>
<path d="M320.68 224.7 L323.8 227.3 L320.68 229.9" fill="none" stroke="#ffffff" stroke-width="1.2" stroke-linejoin="miter"/>
<path d="M353.18 224.7 L356.3 227.3 L353.18 229.9" fill="none" stroke="#ffffff" stroke-width="1.2" stroke-linejoin="miter"/>
<path d="M385.68 224.7 L388.8 227.3 L385.68 229.9" fill="none" stroke="#ffffff" stroke-width="1.2" stroke-linejoin="miter"/>
<path d="M418.18 224.7 L421.3 227.3 L418.18 229.9" fill="none" stroke="#ffffff" stroke-width="1.2" stroke-linejoin="miter"/>
<text x="263" y="244.2" font-family="Liberation Sans, sans-serif" font-size="10.6" text-anchor="middle" fill="#222">ccb010214</text>
<text x="-0.3" y="267.6" font-family="Liberation Sans, sans-serif" font-size="16" font-weight="bold" fill="#111">B</text>
<defs><clipPath id="pc"><rect x="20" y="240" width="493.5" height="440"/></clipPath></defs>
<rect x="25" y="325" width="488" height="1" fill="#d8d8dc"/>
<rect x="25" y="384" width="488" height="1" fill="#d8d8dc"/>
<rect x="25" y="443" width="488" height="1" fill="#d8d8dc"/>
<rect x="25" y="502" width="488" height="1" fill="#d8d8dc"/>
<rect x="25" y="561" width="488" height="1" fill="#d8d8dc"/>
<rect x="25" y="620" width="488" height="1" fill="#d8d8dc"/>
<rect x="25" y="675" width="488" height="1" fill="#d8d8dc"/>
<rect x="25" y="711" width="488" height="1" fill="#d8d8dc"/>
<rect x="25.5" y="282" width="3.3" height="16.5" fill="#c4121f"/>
<path d="M41.5 298.5 L41.5 296.11 L42.5 296.11 L42.5 296.33 L43.5 296.33 L43.5 296.07 L45 296.07 L45 296.09 L45.8 296.09 L45.8 296.44 L47.3 296.44 L47.3 296.51 L48.3 296.51 L48.3 296.16 L49.8 296.16 L49.8 296.3 L51.3 296.3 L51.3 296.47 L52.3 296.47 L52.3 295.83 L53.3 295.83 L53.3 295.96 L54.8 295.96 L54.8 296.54 L55.6 296.54 L55.6 296.4 L56.4 296.4 L56.4 295.88 L57.2 295.88 L57.2 296.23 L58.4 296.23 L58.4 295.99 L58.8 295.99 L58.8 298.5 Z" fill="#c4121f"/>
<path d="M59.8 298.5 L59.8 295.95 L61.3 295.95 L61.3 295.15 L62.8 295.15 L62.8 295.27 L63.8 295.27 L63.8 296.45 L64.6 296.45 L64.6 296.2 L66.1 296.2 L66.1 295.41 L67.6 295.41 L67.6 295.91 L68.8 295.91 L68.8 295.7 L70.3 295.7 L70.3 295.68 L71.8 295.68 L71.8 295.55 L73 295.55 L73 295.3 L73.8 295.3 L73.8 295.52 L74.8 295.52 L74.8 295.15 L76 295.15 L76 295.5 L76.8 295.5 L76.8 295.61 L77 295.61 L77 298.5 Z" fill="#c4121f"/>
<path d="M92.5 298.5 L92.5 296.24 L93.7 296.24 L93.7 295.93 L94.5 295.93 L94.5 296.56 L96 296.56 L96 296.04 L96.8 296.04 L96.8 296.67 L97.8 296.67 L97.8 295.47 L99.3 295.47 L99.3 296.63 L100.1 296.63 L100.1 296.1 L100.9 296.1 L100.9 295.82 L102.1 295.82 L102.1 295.89 L103.3 295.89 L103.3 296.2 L104.1 296.2 L104.1 296.53 L104.9 296.53 L104.9 295.18 L105.7 295.18 L105.7 296.23 L107.2 296.23 L107.2 296.45 L108.4 296.45 L108.4 295.13 L108.8 295.13 L108.8 298.5 Z" fill="#c4121f"/>
<path d="M109.8 298.5 L109.8 295.99 L111 295.99 L111 295.4 L112 295.4 L112 295.92 L113.5 295.92 L113.5 295.66 L114.6 295.66 L114.6 298.5 Z" fill="#c4121f"/>
<path d="M117.5 298.5 L117.5 295.76 L118.3 295.76 L118.3 295.98 L119.5 295.98 L119.5 295.38 L120.5 295.38 L120.5 295.33 L122 295.33 L122 295.84 L123.2 295.84 L123.2 295.55 L124 295.55 L124 296.48 L125.2 296.48 L125.2 296.43 L126.2 296.43 L126.2 295.94 L127.4 295.94 L127.4 295.77 L128.6 295.77 L128.6 295.61 L129.8 295.61 L129.8 295.79 L130 295.79 L130 298.5 Z" fill="#c4121f"/>
<path d="M130 298.5 L130 296.33 L130.8 296.33 L130.8 296.56 L132 296.56 L132 296.59 L133.2 296.59 L133.2 296.88 L134.4 296.88 L134.4 296.78 L135.4 296.78 L135.4 296.41 L135.8 296.41 L135.8 298.5 Z" fill="#c4121f"/>
<path d="M136.7 298.5 L136.7 295.55 L137.9 295.55 L137.9 295.84 L139.4 295.84 L139.4 294.54 L140.2 294.54 L140.2 295.53 L141.2 295.53 L141.2 295.02 L142.2 295.02 L142.2 295.64 L143.4 295.64 L143.4 294.98 L144 294.98 L144 298.5 Z" fill="#c4121f"/>
<path d="M144 298.5 L144 294.83 L144.8 294.83 L144.8 293.39 L146 293.39 L146 294.25 L147 294.25 L147 294.86 L148 294.86 L148 293.5 L149 293.5 L149 294.54 L150.5 294.54 L150.5 294.94 L151.3 294.94 L151.3 294.46 L152 294.46 L152 298.5 Z" fill="#c4121f"/>
<path d="M152 298.5 L152 295.14 L153 295.14 L153 295.19 L154.2 295.19 L154.2 295.19 L155 295.19 L155 298.5 Z" fill="#c4121f"/>
<path d="M157 298.5 L157 296.53 L158.2 296.53 L158.2 296.77 L159.7 296.77 L159.7 296.63 L160.9 296.63 L160.9 296.77 L162.4 296.77 L162.4 296.97 L163.9 296.97 L163.9 296.88 L165.4 296.88 L165.4 296.62 L166.2 296.62 L166.2 296.55 L166.5 296.55 L166.5 298.5 Z" fill="#c4121f"/>
<path d="M168.5 298.5 L168.5 296.24 L169.5 296.24 L169.5 294.79 L171 294.79 L171 295.32 L172.2 295.32 L172.2 294.75 L173.2 294.75 L173.2 296.08 L174.4 296.08 L174.4 296.22 L175.4 296.22 L175.4 294.69 L176.4 294.69 L176.4 295.26 L177.9 295.26 L177.9 295.43 L178.7 295.43 L178.7 295.99 L179.5 295.99 L179.5 295.87 L180.7 295.87 L180.7 295.36 L181.5 295.36 L181.5 296.2 L183 296.2 L183 295.69 L183.8 295.69 L183.8 294.55 L185 294.55 L185 294.84 L186.5 294.84 L186.5 295.67 L187.3 295.67 L187.3 296.08 L188.3 296.08 L188.3 295.99 L189.1 295.99 L189.1 294.64 L189.6 294.64 L189.6 298.5 Z" fill="#c4121f"/>
<path d="M203 298.5 L203 293.85 L204 293.85 L204 294.52 L204.8 294.52 L204.8 295.4 L206 295.4 L206 298.5 Z" fill="#c4121f"/>
<path d="M206 298.5 L206 292.05 L207.2 292.05 L207.2 292.41 L208.7 292.41 L208.7 291.1 L209 291.1 L209 298.5 Z" fill="#c4121f"/>
<path d="M209 298.5 L209 293.71 L209.8 293.71 L209.8 294.93 L210.8 294.93 L210.8 294.9 L211.6 294.9 L211.6 293.72 L212.4 293.72 L212.4 294.23 L213 294.23 L213 298.5 Z" fill="#c4121f"/>
<path d="M213 298.5 L213 296.65 L214.5 296.65 L214.5 296.84 L215.7 296.84 L215.7 296.38 L217.2 296.38 L217.2 296.61 L218.4 296.61 L218.4 296.11 L219.4 296.11 L219.4 296.8 L220.9 296.8 L220.9 296.33 L221.7 296.33 L221.7 296.26 L222 296.26 L222 298.5 Z" fill="#c4121f"/>
<path d="M225 298.5 L225 296.25 L226 296.25 L226 295.57 L227.5 295.57 L227.5 295.54 L229 295.54 L229 295.55 L229.8 295.55 L229.8 296.24 L231.3 296.24 L231.3 295.39 L232.8 295.39 L232.8 295.8 L234 295.8 L234 295.75 L235 295.75 L235 298.5 Z" fill="#c4121f"/>
<path d="M240 298.5 L240 295.15 L241 295.15 L241 294.39 L242.2 294.39 L242.2 294.21 L243 294.21 L243 294.82 L244 294.82 L244 294 L244.8 294 L244.8 293.95 L246 293.95 L246 295.31 L247.2 295.31 L247.2 294 L248 294 L248 294.43 L249.5 294.43 L249.5 294.6 L250.7 294.6 L250.7 294.2 L251.5 294.2 L251.5 294.74 L252.3 294.74 L252.3 294.26 L253.3 294.26 L253.3 294.66 L254.1 294.66 L254.1 294.45 L254.9 294.45 L254.9 295.21 L256.4 295.21 L256.4 294.95 L257.2 294.95 L257.2 295.46 L258 295.46 L258 294.42 L258.8 294.42 L258.8 294.57 L260 294.57 L260 295.44 L260.8 295.44 L260.8 295.33 L261.8 295.33 L261.8 294 L262 294 L262 298.5 Z" fill="#c4121f"/>
<path d="M262 298.5 L262 293.51 L262.8 293.51 L262.8 293.01 L263.8 293.01 L263.8 292.7 L264.8 292.7 L264.8 293.68 L265.8 293.68 L265.8 294.04 L267.3 294.04 L267.3 292.81 L268.8 292.81 L268.8 292.76 L270.3 292.76 L270.3 293.6 L271.8 293.6 L271.8 292.98 L272 292.98 L272 298.5 Z" fill="#c4121f"/>
<path d="M272 298.5 L272 294.38 L273 294.38 L273 294.77 L274.5 294.77 L274.5 293.65 L276 293.65 L276 294.76 L277 294.76 L277 293.88 L278.5 293.88 L278.5 294.12 L280 294.12 L280 298.5 Z" fill="#c4121f"/>
<path d="M280 298.5 L280 293.23 L281 293.23 L281 293.21 L282 293.21 L282 291.63 L283.2 291.63 L283.2 292.16 L284 292.16 L284 298.5 Z" fill="#c4121f"/>
<path d="M284 298.5 L284 290.81 L285.5 290.81 L285.5 290.22 L286.7 290.22 L286.7 291.95 L287.9 291.95 L287.9 290.39 L289 290.39 L289 298.5 Z" fill="#c4121f"/>
<path d="M289 298.5 L289 293.24 L290 293.24 L290 293.14 L291.2 293.14 L291.2 292.34 L292 292.34 L292 298.5 Z" fill="#c4121f"/>
<path d="M292 298.5 L292 294.46 L293 294.46 L293 294.09 L294.5 294.09 L294.5 294.39 L295.5 294.39 L295.5 294.37 L296.3 294.37 L296.3 293.89 L297.1 293.89 L297.1 293.98 L298.6 293.98 L298.6 294.39 L299.4 294.39 L299.4 293.84 L300.4 293.84 L300.4 293.75 L301.2 293.75 L301.2 294.69 L302.4 294.69 L302.4 293.99 L303.4 293.99 L303.4 294.76 L304.4 294.76 L304.4 293.83 L305 293.83 L305 298.5 Z" fill="#c4121f"/>
<path d="M310 298.5 L310 296.53 L311.2 296.53 L311.2 296.39 L312 296.39 L312 296.61 L313.5 296.61 L313.5 296.58 L314.3 296.58 L314.3 295.87 L315.5 295.87 L315.5 296.66 L316.7 296.66 L316.7 296.12 L318 296.12 L318 298.5 Z" fill="#c4121f"/>
<path d="M318 298.5 L318 294.99 L319.2 294.99 L319.2 294.3 L320.4 294.3 L320.4 293.98 L321.9 293.98 L321.9 293.65 L322.9 293.65 L322.9 294.18 L324.4 294.18 L324.4 294.75 L325.6 294.75 L325.6 294.84 L326.8 294.84 L326.8 294.76 L328.3 294.76 L328.3 294.8 L329.5 294.8 L329.5 293.58 L330.7 293.58 L330.7 293.41 L331.9 293.41 L331.9 293.61 L333.1 293.61 L333.1 294.77 L334.3 294.77 L334.3 293.59 L335.5 293.59 L335.5 293.6 L336.3 293.6 L336.3 294.88 L337.5 294.88 L337.5 293.58 L338.7 293.58 L338.7 293.64 L339.7 293.64 L339.7 294.62 L340.7 294.62 L340.7 294.74 L342.2 294.74 L342.2 293.07 L343.2 293.07 L343.2 293.83 L344.7 293.83 L344.7 294.04 L345.7 294.04 L345.7 293.36 L346.9 293.36 L346.9 294.77 L347.7 294.77 L347.7 293.42 L348.7 293.42 L348.7 294.25 L350.2 294.25 L350.2 294.43 L351.4 294.43 L351.4 293.17 L352.2 293.17 L352.2 293.99 L353 293.99 L353 294.48 L354.2 294.48 L354.2 293.16 L355.4 293.16 L355.4 294.06 L356.9 294.06 L356.9 294.26 L357.7 294.26 L357.7 294.68 L358.5 294.68 L358.5 293.57 L359.3 293.57 L359.3 294.61 L360.1 294.61 L360.1 293.81 L361.1 293.81 L361.1 293.29 L362.6 293.29 L362.6 293.76 L363.6 293.76 L363.6 293.2 L364.6 293.2 L364.6 293.86 L365.6 293.86 L365.6 293.81 L366.6 293.81 L366.6 293.18 L367.6 293.18 L367.6 293.36 L368.8 293.36 L368.8 293.23 L369.6 293.23 L369.6 293.13 L371.1 293.13 L371.1 294.34 L372.6 294.34 L372.6 293.67 L373.8 293.67 L373.8 293.12 L375 293.12 L375 294.94 L376.5 294.94 L376.5 293.47 L377.5 293.47 L377.5 294.77 L378 294.77 L378 298.5 Z" fill="#c4121f"/>
<path d="M387 298.5 L387 292.77 L388 292.77 L388 293.5 L389.5 293.5 L389.5 293.91 L390.5 293.91 L390.5 293.72 L391 293.72 L391 298.5 Z" fill="#c4121f"/>
<path d="M391 298.5 L391 290.08 L392.2 290.08 L392.2 291.73 L393.2 291.73 L393.2 290.75 L394 290.75 L394 291.95 L394.8 291.95 L394.8 290.99 L395 290.99 L395 298.5 Z" fill="#c4121f"/>
<path d="M395 298.5 L395 292.92 L396.5 292.92 L396.5 293.35 L397.7 293.35 L397.7 292.61 L398.9 292.61 L398.9 293.84 L399 293.84 L399 298.5 Z" fill="#c4121f"/>
<path d="M399 298.5 L399 294.07 L399.8 294.07 L399.8 293.7 L401 293.7 L401 293.79 L402 293.79 L402 294.43 L403 294.43 L403 294.37 L404 294.37 L404 293.98 L404.8 293.98 L404.8 294.9 L406.3 294.9 L406.3 294.08 L407.3 294.08 L407.3 294.35 L408.8 294.35 L408.8 294.3 L409.6 294.3 L409.6 294.73 L411.1 294.73 L411.1 294.6 L412 294.6 L412 298.5 Z" fill="#c4121f"/>
<path d="M412 298.5 L412 295.68 L413.5 295.68 L413.5 295.69 L415 295.69 L415 298.5 Z" fill="#c4121f"/>
<path d="M429 298.5 L429 295.44 L430.5 295.44 L430.5 296.19 L431.7 296.19 L431.7 296.07 L432.9 296.07 L432.9 295.86 L434.1 295.86 L434.1 295.34 L435.1 295.34 L435.1 296.34 L436.1 296.34 L436.1 296.5 L437.3 296.5 L437.3 295.95 L438.8 295.95 L438.8 296.41 L439.8 296.41 L439.8 295.88 L440.8 295.88 L440.8 295.81 L441.8 295.81 L441.8 296.55 L442.8 296.55 L442.8 296.08 L443.8 296.08 L443.8 296.62 L444.8 296.62 L444.8 296.14 L445.6 296.14 L445.6 296.13 L446.8 296.13 L446.8 296.37 L447.6 296.37 L447.6 296.14 L448 296.14 L448 298.5 Z" fill="#c4121f"/>
<path d="M417 298.5 L417 281 L417.6 280.2 L419.5 280.3 L420.5 281.3 L422 282.3 L424.2 283 L424.2 298.5 Z" fill="#c4121f"/>
<path d="M462 298.5 L462 278.67 L463 278.67 L463 281.5 L464 281.5 L464 282.56 L465.2 282.56 L465.2 283.9 L466.2 283.9 L466.2 284.82 L467.2 284.82 L467.2 284.47 L468.2 284.47 L468.2 284.89 L469.7 284.89 L469.7 283.4 L470.9 283.4 L470.9 282.62 L472.1 282.62 L472.1 281.13 L473.6 281.13 L473.6 277.92 L474.8 277.92 L474.8 276.84 L476 276.84 L476 275.51 L477 275.51 L477 275.9 L478 275.9 L478 277.84 L479 277.84 L479 279.54 L480.5 279.54 L480.5 280.81 L481.5 280.81 L481.5 282.8 L482.7 282.8 L482.7 283.46 L484.2 283.46 L484.2 283.62 L485.4 283.62 L485.4 282.22 L486.6 282.22 L486.6 280.91 L487.8 280.91 L487.8 283.15 L489.3 283.15 L489.3 283.73 L490.5 283.73 L490.5 285.45 L492 285.45 L492 284.23 L493 284.23 L493 283.05 L494 283.05 L494 282.22 L495 282.22 L495 282.78 L496.5 282.78 L496.5 283.69 L498 283.69 L498 286.59 L499.2 286.59 L499.2 287.25 L500.7 287.25 L500.7 288.09 L501.9 288.09 L501.9 289.55 L503.4 289.55 L503.4 290.32 L504.4 290.32 L504.4 290.9 L505.6 290.9 L505.6 291.19 L506.8 291.19 L506.8 292.58 L508 292.58 L508 293.06 L509 293.06 L509 292.29 L510.5 292.29 L510.5 292.56 L512 292.56 L512 292.74 L513 292.74 L513 298.5 Z" fill="#c4121f"/>
<rect x="25" y="298" width="488" height="1" fill="#5a5a5a"/>
<path d="M28 296 C28 280.93 209 280.93 209 296" fill="none" stroke="#b41020" stroke-width="2.4" opacity="1"/>
<rect x="107.22" y="277.32" width="19.16" height="12.66" fill="#fff"/>
<text x="117.15" y="288.95" font-family="Liberation Sans, sans-serif" font-size="14.8" text-anchor="middle" letter-spacing="0.5" fill="#870c18" opacity="1">23</text>
<path d="M28 299 C28 314.42 418 314.42 418 298.5" fill="none" stroke="#b41020" stroke-width="3" opacity="1"/>
<rect x="212.22" y="304.67" width="19.16" height="12.66" fill="#fff"/>
<text x="222.15" y="316.3" font-family="Liberation Sans, sans-serif" font-size="14.8" text-anchor="middle" letter-spacing="0.5" fill="#870c18" opacity="1">32</text>
<path d="M211 299 C211 311.35 418 311.35 418 298.5" fill="none" stroke="#b41020" stroke-width="2.5" opacity="1"/>
<rect x="304.27" y="302.47" width="19.16" height="12.66" fill="#fff"/>
<text x="314.2" y="314.1" font-family="Liberation Sans, sans-serif" font-size="14.8" text-anchor="middle" letter-spacing="0.5" fill="#870c18" opacity="1">10</text>
<path d="M424.6 292.5 C424.6 284.38 461.3 284.38 461.3 294" fill="none" stroke="#b41020" stroke-width="3.5" opacity="1"/>
<rect x="431.72" y="279.57" width="19.16" height="12.66" fill="#fff"/>
<text x="441.65" y="291.2" font-family="Liberation Sans, sans-serif" font-size="14.8" text-anchor="middle" letter-spacing="0.5" fill="#870c18" opacity="1">64</text>
<text x="270.6" y="279.8" font-family="Liberation Sans, sans-serif" font-size="8.5" text-anchor="middle" fill="#222">ccb010214</text>
<line x1="232.7" y1="264.2" x2="218.05" y2="281.65" stroke="#111" stroke-width="1.2"/>
<path d="M212.3 288 L214.2 278.4 L221.9 284.9 Z" fill="#111"/>
<rect x="24.3" y="338.8" width="1.3" height="18.7" fill="#4a7cbe"/>
<rect x="25.6" y="347.5" width="3" height="10" fill="#4a7cbe"/>
<path d="M44 357.5 L44 354.29 L45 354.29 L45 354.18 L45.8 354.18 L45.8 354.24 L46.6 354.24 L46.6 354.68 L47.4 354.68 L47.4 354.12 L48.2 354.12 L48.2 354.55 L49 354.55 L49 354 L49 354 L49 357.5 Z" fill="#4a7cbe"/>
<rect x="56" y="355.5" width="1" height="2" fill="#4a7cbe"/>
<rect x="65" y="355.5" width="1" height="2" fill="#4a7cbe"/>
<rect x="71" y="355.5" width="1" height="2" fill="#4a7cbe"/>
<rect x="78" y="355.5" width="1" height="2" fill="#4a7cbe"/>
<path d="M91 357.5 L91 355.86 L91.8 355.86 L91.8 355.43 L93.3 355.43 L93.3 355.7 L94.1 355.7 L94.1 355.83 L95.3 355.83 L95.3 355.41 L96.1 355.41 L96.1 355.76 L97.1 355.76 L97.1 355.31 L97.9 355.31 L97.9 355.55 L98.9 355.55 L98.9 355.83 L99.7 355.83 L99.7 355.32 L100 355.32 L100 357.5 Z" fill="#4a7cbe"/>
<rect x="101" y="355.5" width="3" height="2" fill="#4a7cbe"/>
<rect x="109" y="355.5" width="1" height="2" fill="#4a7cbe"/>
<path d="M110 357.5 L110 353.3 L111 353.3 L111 353.99 L112.5 353.99 L112.5 353.42 L113.7 353.42 L113.7 354.07 L114.7 354.07 L114.7 354.92 L115.5 354.92 L115.5 353.8 L116.3 353.8 L116.3 354.6 L117.1 354.6 L117.1 354.83 L118.3 354.83 L118.3 354.2 L119 354.2 L119 357.5 Z" fill="#4a7cbe"/>
<rect x="120" y="355.5" width="2" height="2" fill="#4a7cbe"/>
<path d="M136 357.5 L136 354.53 L136.8 354.53 L136.8 354.82 L138 354.82 L138 354.37 L139.5 354.37 L139.5 354.3 L140.7 354.3 L140.7 354.32 L142.2 354.32 L142.2 355.16 L143.2 355.16 L143.2 354.74 L144 354.74 L144 354.89 L144.8 354.89 L144.8 354.72 L145.8 354.72 L145.8 354.19 L146.6 354.19 L146.6 354.79 L147 354.79 L147 357.5 Z" fill="#4a7cbe"/>
<rect x="156" y="355.5" width="2" height="2" fill="#4a7cbe"/>
<path d="M165 357.5 L165 355.46 L165.8 355.46 L165.8 355.6 L166.8 355.6 L166.8 355.57 L167.6 355.57 L167.6 355.52 L169.1 355.52 L169.1 355.61 L170 355.61 L170 357.5 Z" fill="#4a7cbe"/>
<path d="M185 357.5 L185 354.48 L186 354.48 L186 354.49 L187 354.49 L187 354.35 L188.5 354.35 L188.5 354.74 L189 354.74 L189 357.5 Z" fill="#4a7cbe"/>
<path d="M193 357.5 L193 355.37 L194 355.37 L194 355.66 L195.5 355.66 L195.5 355.67 L197 355.67 L197 355.8 L197.8 355.8 L197.8 355.87 L198.6 355.87 L198.6 355.98 L199 355.98 L199 357.5 Z" fill="#4a7cbe"/>
<path d="M215 357.5 L215 355.72 L216 355.72 L216 355.52 L216.8 355.52 L216.8 355.78 L217.6 355.78 L217.6 355.73 L218.6 355.73 L218.6 355.88 L220.1 355.88 L220.1 355.45 L221.6 355.45 L221.6 355.81 L222 355.81 L222 357.5 Z" fill="#4a7cbe"/>
<path d="M225 357.5 L225 354.94 L226.5 354.94 L226.5 354.77 L228 354.77 L228 355.12 L229 355.12 L229 354.13 L230.2 354.13 L230.2 354.17 L231.4 354.17 L231.4 354.93 L232.9 354.93 L232.9 354.73 L234.4 354.73 L234.4 354.87 L235 354.87 L235 357.5 Z" fill="#4a7cbe"/>
<path d="M238 357.5 L238 355.73 L239.2 355.73 L239.2 355.68 L240.7 355.68 L240.7 355.42 L241.9 355.42 L241.9 355.45 L243.1 355.45 L243.1 355.89 L243.9 355.89 L243.9 355.58 L244.9 355.58 L244.9 355.33 L245 355.33 L245 357.5 Z" fill="#4a7cbe"/>
<path d="M250 357.5 L250 355.06 L250.8 355.06 L250.8 354.87 L252.3 354.87 L252.3 354.12 L253.5 354.12 L253.5 354.71 L254.3 354.71 L254.3 355.28 L255.3 355.28 L255.3 354.21 L256.8 354.21 L256.8 354.58 L257.6 354.58 L257.6 354.76 L258 354.76 L258 357.5 Z" fill="#4a7cbe"/>
<path d="M265 357.5 L265 354.78 L266.2 354.78 L266.2 354.62 L267.7 354.62 L267.7 354.69 L268.9 354.69 L268.9 354.61 L269.7 354.61 L269.7 354.18 L270 354.18 L270 357.5 Z" fill="#4a7cbe"/>
<path d="M270 357.5 L270 353 L271 353 L271 353.93 L272.5 353.93 L272.5 353.84 L273.7 353.84 L273.7 354.97 L274.9 354.97 L274.9 354.96 L275.7 354.96 L275.7 353.12 L276.5 353.12 L276.5 354.02 L278 354.02 L278 354.22 L279.5 354.22 L279.5 354.38 L280.5 354.38 L280.5 353.56 L281.3 353.56 L281.3 354.14 L282.1 354.14 L282.1 354.07 L283.3 354.07 L283.3 353.31 L284.5 353.31 L284.5 354.41 L285 354.41 L285 357.5 Z" fill="#4a7cbe"/>
<path d="M285 357.5 L285 354.61 L286 354.61 L286 354.67 L287 354.67 L287 354.72 L288.5 354.72 L288.5 354.31 L289.5 354.31 L289.5 355.26 L290.7 355.26 L290.7 354.71 L291.5 354.71 L291.5 354.36 L292 354.36 L292 357.5 Z" fill="#4a7cbe"/>
<path d="M292 357.5 L292 354.38 L293.2 354.38 L293.2 354.05 L294 354.05 L294 353.43 L295.5 353.43 L295.5 354.27 L297 354.27 L297 354.28 L298.2 354.28 L298.2 353.37 L299.7 353.37 L299.7 354.12 L300 354.12 L300 357.5 Z" fill="#4a7cbe"/>
<path d="M305 357.5 L305 355.37 L306.2 355.37 L306.2 354.93 L307 354.93 L307 355.13 L308 355.13 L308 357.5 Z" fill="#4a7cbe"/>
<path d="M310 357.5 L310 353.93 L311.2 353.93 L311.2 353.5 L312.7 353.5 L312.7 353.01 L313.5 353.01 L313.5 352.53 L314.5 352.53 L314.5 352.51 L315.3 352.51 L315.3 352.74 L316.1 352.74 L316.1 352.12 L316.9 352.12 L316.9 353.14 L317.7 353.14 L317.7 353.08 L319.2 353.08 L319.2 352.91 L320 352.91 L320 357.5 Z" fill="#4a7cbe"/>
<path d="M325 357.5 L325 354.56 L325.8 354.56 L325.8 352.61 L327.3 352.61 L327.3 354.63 L328.3 354.63 L328.3 353.27 L329.3 353.27 L329.3 353.31 L330.8 353.31 L330.8 354.64 L331.6 354.64 L331.6 354.55 L332.4 354.55 L332.4 354.22 L333.4 354.22 L333.4 352.81 L334.4 352.81 L334.4 353.69 L335.2 353.69 L335.2 353.66 L336.2 353.66 L336.2 353.05 L337.7 353.05 L337.7 354.03 L339.2 354.03 L339.2 354.3 L340 354.3 L340 354.71 L341 354.71 L341 354.68 L342.2 354.68 L342.2 352.66 L343.4 352.66 L343.4 352.66 L344.2 352.66 L344.2 352.65 L345 352.65 L345 357.5 Z" fill="#4a7cbe"/>
<path d="M348 357.5 L348 350.56 L349 350.56 L349 353.31 L350 353.31 L350 353.19 L351.5 353.19 L351.5 352.08 L352.7 352.08 L352.7 351.91 L353.9 351.91 L353.9 351.79 L355 351.79 L355 357.5 Z" fill="#4a7cbe"/>
<path d="M358 357.5 L358 354.19 L359.5 354.19 L359.5 354.34 L360.7 354.34 L360.7 353.75 L362.2 353.75 L362.2 353.87 L363.2 353.87 L363.2 353.6 L364.4 353.6 L364.4 354.55 L365.4 354.55 L365.4 354.52 L366.4 354.52 L366.4 354.8 L367.4 354.8 L367.4 354.39 L368.2 354.39 L368.2 354.83 L369.2 354.83 L369.2 354.76 L370 354.76 L370 357.5 Z" fill="#4a7cbe"/>
<path d="M373 357.5 L373 355.42 L373.8 355.42 L373.8 355.58 L375 355.58 L375 355.84 L376.2 355.84 L376.2 355.7 L377.7 355.7 L377.7 355.71 L378 355.71 L378 357.5 Z" fill="#4a7cbe"/>
<path d="M385 357.5 L385 352.77 L386.2 352.77 L386.2 352.54 L387.4 352.54 L387.4 351.98 L388.6 351.98 L388.6 354 L389.8 354 L389.8 354.06 L391 354.06 L391 352.89 L391.8 352.89 L391.8 352.44 L392.8 352.44 L392.8 352.45 L394 352.45 L394 354.01 L395 354.01 L395 353.41 L396.2 353.41 L396.2 353.83 L397.7 353.83 L397.7 351.55 L398.7 351.55 L398.7 351.52 L400 351.52 L400 357.5 Z" fill="#4a7cbe"/>
<path d="M402 357.5 L402 354.36 L402.8 354.36 L402.8 353.4 L404.3 353.4 L404.3 354.38 L405.5 354.38 L405.5 353.73 L407 353.73 L407 353.77 L407.8 353.77 L407.8 354.39 L408.8 354.39 L408.8 352.73 L410 352.73 L410 357.5 Z" fill="#4a7cbe"/>
<rect x="412" y="355" width="2" height="2.5" fill="#4a7cbe"/>
<path d="M435 357.5 L435 354.09 L436.5 354.09 L436.5 354.13 L438 354.13 L438 355.67 L439.2 355.67 L439.2 354.59 L440.4 354.59 L440.4 354.73 L441.9 354.73 L441.9 354.41 L442.7 354.41 L442.7 354.99 L443.7 354.99 L443.7 354.88 L444.5 354.88 L444.5 355.39 L445.3 355.39 L445.3 355.24 L446.1 355.24 L446.1 355.08 L447.6 355.08 L447.6 355.64 L448.4 355.64 L448.4 354.52 L449.6 354.52 L449.6 353.88 L450 353.88 L450 357.5 Z" fill="#4a7cbe"/>
<path d="M205.7 357.5 L205.7 344 L208.4 344 L208.6 348.5 L209.9 348.5 L210.1 345.2 L212 345.2 L212 357.5 Z" fill="#4a7cbe"/>
<path d="M417 357.5 L417 351.5 L417.3 344.5 L418 339.5 L418.8 336.5 L419.8 335 L420.2 332.9 L421 332.9 L421.3 336.5 L422 339 L423 342.5 L423.6 345.5 L423.9 351.5 L423.9 357.5 Z" fill="#4a7cbe"/>
<path d="M462 357.5 L462 347.08 L463 347.08 L463 343.91 L464.5 343.91 L464.5 339.61 L466 339.61 L466 344.74 L467.2 344.74 L467.2 347.08 L468.2 347.08 L468.2 348.94 L469.4 348.94 L469.4 348.59 L470.4 348.59 L470.4 345.83 L471.9 345.83 L471.9 344.13 L473.1 344.13 L473.1 342.56 L474.3 342.56 L474.3 341.93 L475.5 341.93 L475.5 343.14 L476.5 343.14 L476.5 344.26 L477.5 344.26 L477.5 344.72 L479 344.72 L479 345.22 L480.5 345.22 L480.5 345.75 L482 345.75 L482 344.26 L483.2 344.26 L483.2 341.66 L484.7 341.66 L484.7 343.39 L485.7 343.39 L485.7 344.92 L487.2 344.92 L487.2 344.88 L488.2 344.88 L488.2 344.14 L489.4 344.14 L489.4 342.56 L490.6 342.56 L490.6 344.13 L491.6 344.13 L491.6 347.4 L492.8 347.4 L492.8 350.28 L494.3 350.28 L494.3 352.02 L495.5 352.02 L495.5 349.79 L496.7 349.79 L496.7 349.17 L497.7 349.17 L497.7 347.83 L498.7 347.83 L498.7 348.57 L500.2 348.57 L500.2 348.71 L501.7 348.71 L501.7 350.41 L502.7 350.41 L502.7 350.49 L503.9 350.49 L503.9 350.66 L505.4 350.66 L505.4 347.18 L506.6 347.18 L506.6 344.55 L508.1 344.55 L508.1 347.64 L509.1 347.64 L509.1 350.22 L510.3 350.22 L510.3 351.56 L511.8 351.56 L511.8 351.79 L513 351.79 L513 357.5 Z" fill="#4a7cbe"/>
<rect x="25" y="357" width="488" height="1" fill="#5a5a5a"/>
<path d="M28 357.5 C28 372.83 206 372.83 206 357.5" fill="none" stroke="#4270aa" stroke-width="2" opacity="1"/>
<rect x="107.17" y="362.02" width="19.16" height="12.66" fill="#fff"/>
<text x="117.1" y="373.65" font-family="Liberation Sans, sans-serif" font-size="14.8" text-anchor="middle" letter-spacing="0.5" fill="#31547f" opacity="1">14</text>
<path d="M212 354.8 C212 340.27 417.5 340.27 417.5 354" fill="none" stroke="#4270aa" stroke-width="2.5" opacity="1"/>
<rect x="303.82" y="336.37" width="19.16" height="12.66" fill="#fff"/>
<text x="313.75" y="348" font-family="Liberation Sans, sans-serif" font-size="14.8" text-anchor="middle" letter-spacing="0.5" fill="#31547f" opacity="1">23</text>
<path d="M255 357.5 C255 372.17 417 372.17 417 357.5" fill="none" stroke="#c8d2e2" stroke-width="0.8" opacity="1"/>
<rect x="330.59" y="362.17" width="10.43" height="12.66" fill="#fff"/>
<text x="336.15" y="373.8" font-family="Liberation Sans, sans-serif" font-size="14.8" text-anchor="middle" letter-spacing="0.5" fill="#6f8fbf" opacity="1">1</text>
<path d="M424 345.6 C424 333.07 461.3 333.07 461.3 345.6" fill="none" stroke="#4270aa" stroke-width="2.5" opacity="1"/>
<rect x="432.5" y="329.17" width="18.8" height="12.66" fill="#fff"/>
<text x="442.9" y="340.5" font-family="Liberation Serif, serif" font-size="14.8" text-anchor="middle" letter-spacing="1.8" fill="#31547f" opacity="1">18</text>
<text x="270.6" y="334.5" font-family="Liberation Sans, sans-serif" font-size="8.5" text-anchor="middle" fill="#222">ccb070012</text>
<rect x="24" y="411.2" width="4.3" height="5.3" fill="#6cb03c"/>
<rect x="48" y="414" width="2" height="2.5" fill="#6cb03c"/>
<rect x="100" y="413.5" width="1.2" height="3" fill="#6cb03c"/>
<rect x="101.8" y="413.5" width="1.2" height="3" fill="#6cb03c"/>
<rect x="117" y="414" width="2.5" height="2.5" fill="#6cb03c"/>
<path d="M213 416.5 L213 413.99 L214.2 413.99 L214.2 413.85 L215.2 413.85 L215.2 413.44 L216.7 413.44 L216.7 413.81 L217.7 413.81 L217.7 414.12 L218 414.12 L218 416.5 Z" fill="#6cb03c"/>
<rect x="220" y="414" width="3" height="2.5" fill="#6cb03c"/>
<path d="M225 416.5 L225 412.61 L225.8 412.61 L225.8 412.63 L226.6 412.63 L226.6 412.78 L228.1 412.78 L228.1 413.96 L229.3 413.96 L229.3 413.71 L230.1 413.71 L230.1 413.61 L231.1 413.61 L231.1 413.87 L231.9 413.87 L231.9 413.6 L233.1 413.6 L233.1 413.79 L234.1 413.79 L234.1 413.83 L235.3 413.83 L235.3 412.98 L236.5 412.98 L236.5 413.9 L237.5 413.9 L237.5 413.99 L238 413.99 L238 416.5 Z" fill="#6cb03c"/>
<path d="M242 416.5 L242 413.86 L243 413.86 L243 413.91 L244 413.91 L244 413.2 L245.2 413.2 L245.2 413.07 L246.2 413.07 L246.2 413.22 L247.7 413.22 L247.7 413.22 L249.2 413.22 L249.2 413.5 L250.4 413.5 L250.4 414.16 L251.2 414.16 L251.2 413.42 L252.7 413.42 L252.7 413.82 L253.7 413.82 L253.7 413.07 L255 413.07 L255 416.5 Z" fill="#6cb03c"/>
<rect x="258" y="414.5" width="2" height="2" fill="#6cb03c"/>
<path d="M275 416.5 L275 413.6 L276 413.6 L276 413.68 L277.5 413.68 L277.5 412.94 L279 412.94 L279 413.01 L279.8 413.01 L279.8 412.74 L281 412.74 L281 413.25 L282 413.25 L282 413.67 L282.8 413.67 L282.8 412.77 L283.8 412.77 L283.8 413.17 L285.3 413.17 L285.3 412.75 L286.3 412.75 L286.3 413.63 L287.8 413.63 L287.8 413.25 L288.6 413.25 L288.6 413.18 L289.6 413.18 L289.6 413.25 L290 413.25 L290 416.5 Z" fill="#6cb03c"/>
<path d="M290 416.5 L290 413.96 L291.2 413.96 L291.2 413.66 L292.7 413.66 L292.7 413.58 L293.9 413.58 L293.9 413.82 L295.4 413.82 L295.4 414.08 L296 414.08 L296 416.5 Z" fill="#6cb03c"/>
<path d="M296 416.5 L296 413.15 L297.2 413.15 L297.2 413.56 L298.2 413.56 L298.2 413.16 L299.2 413.16 L299.2 412.93 L300.7 412.93 L300.7 413.17 L301.9 413.17 L301.9 412.63 L303.1 412.63 L303.1 413.74 L304.6 413.74 L304.6 413.3 L305 413.3 L305 416.5 Z" fill="#6cb03c"/>
<rect x="315.5" y="405.5" width="1.3" height="11" fill="#6cb03c"/>
<rect x="316.8" y="408.5" width="1.8" height="8" fill="#6cb03c"/>
<path d="M320 416.5 L320 414.26 L321.5 414.26 L321.5 414.61 L322.7 414.61 L322.7 414.21 L323.5 414.21 L323.5 414.57 L324.5 414.57 L324.5 414.6 L325.5 414.6 L325.5 413.96 L326.3 413.96 L326.3 414.38 L327.5 414.38 L327.5 414.32 L328.3 414.32 L328.3 414.52 L329.5 414.52 L329.5 414.61 L330 414.61 L330 416.5 Z" fill="#6cb03c"/>
<path d="M332 416.5 L332 414.32 L332.8 414.32 L332.8 414.58 L334.3 414.58 L334.3 413.93 L335.5 413.93 L335.5 414.49 L336.5 414.49 L336.5 414.17 L337.5 414.17 L337.5 413.91 L338.5 413.91 L338.5 414.11 L339.7 414.11 L339.7 414.62 L340 414.62 L340 416.5 Z" fill="#6cb03c"/>
<path d="M343 416.5 L343 412.12 L344 412.12 L344 411.54 L345 411.54 L345 411.56 L346.2 411.56 L346.2 411.93 L347.4 411.93 L347.4 413.59 L348.4 413.59 L348.4 413.33 L349.9 413.33 L349.9 413.07 L350.9 413.07 L350.9 412.14 L352.4 412.14 L352.4 411.55 L353.9 411.55 L353.9 413.36 L355.4 413.36 L355.4 412.54 L356.6 412.54 L356.6 413.62 L358.1 413.62 L358.1 413.58 L358.9 413.58 L358.9 413.47 L359.7 413.47 L359.7 412.74 L360.7 412.74 L360.7 411.88 L361.7 411.88 L361.7 413.36 L362.9 413.36 L362.9 413.49 L364.1 413.49 L364.1 413.46 L365.1 413.46 L365.1 412.79 L365.9 412.79 L365.9 413.63 L367.1 413.63 L367.1 412.33 L368.3 412.33 L368.3 413.35 L369.3 413.35 L369.3 412.44 L370 412.44 L370 416.5 Z" fill="#6cb03c"/>
<path d="M372 416.5 L372 414.62 L373 414.62 L373 414.2 L373.8 414.2 L373.8 414.13 L375.3 414.13 L375.3 414.49 L376.8 414.49 L376.8 414.64 L377.6 414.64 L377.6 414.56 L379.1 414.56 L379.1 414.43 L379.9 414.43 L379.9 414.03 L380 414.03 L380 416.5 Z" fill="#6cb03c"/>
<rect x="397" y="414.5" width="3" height="2" fill="#6cb03c"/>
<rect x="410" y="414.5" width="2" height="2" fill="#6cb03c"/>
<path d="M430 416.5 L430 414.2 L431.2 414.2 L431.2 413.33 L432.2 413.33 L432.2 411.69 L433.7 411.69 L433.7 412.62 L434.9 412.62 L434.9 413.14 L436.4 413.14 L436.4 413.46 L437.2 413.46 L437.2 414.03 L438.2 414.03 L438.2 414.21 L439.7 414.21 L439.7 411.56 L440.9 411.56 L440.9 412.86 L441.7 412.86 L441.7 413.63 L442.7 413.63 L442.7 413.28 L443.5 413.28 L443.5 413.83 L444.7 413.83 L444.7 412.79 L446 412.79 L446 416.5 Z" fill="#6cb03c"/>
<path d="M207.4 416.5 L207.4 412.5 L208.3 409.5 L209 403.5 L209.8 396.5 L210.6 396.5 L211.2 401.5 L211.8 407.5 L212.6 411.5 L213.5 413.5 L213.5 416.5 Z" fill="#6cb03c"/>
<path d="M416.6 416.5 L416.6 406.5 L417 400 L417.6 399 L418.3 399.5 L418.7 402 L420 402.3 L420.4 406 L423.5 406.3 L423.5 416.5 Z" fill="#6cb03c"/>
<path d="M462 416.5 L462 408.6 L463.2 408.6 L463.2 408.31 L464.7 408.31 L464.7 407.82 L466.2 407.82 L466.2 407.48 L467.7 407.48 L467.7 407.39 L468.9 407.39 L468.9 407.76 L469.9 407.76 L469.9 405.33 L471.4 405.33 L471.4 401.46 L472.6 401.46 L472.6 398.73 L474.1 398.73 L474.1 398.5 L475.1 398.5 L475.1 398.46 L476.1 398.46 L476.1 399.86 L477.6 399.86 L477.6 400.66 L478.8 400.66 L478.8 403.63 L480 403.63 L480 405.8 L481.2 405.8 L481.2 403.76 L482.2 403.76 L482.2 403.67 L483.4 403.67 L483.4 399.37 L484.4 399.37 L484.4 402.37 L485.4 402.37 L485.4 404.23 L486.9 404.23 L486.9 406.88 L487.9 406.88 L487.9 407.88 L489.4 407.88 L489.4 404.85 L490.6 404.85 L490.6 403.2 L491.8 403.2 L491.8 405.91 L493 405.91 L493 406.19 L494 406.19 L494 406.09 L495.5 406.09 L495.5 405.25 L497 405.25 L497 405.48 L498 405.48 L498 405.12 L499.2 405.12 L499.2 405.02 L500.7 405.02 L500.7 404.63 L502.2 404.63 L502.2 404.98 L503.7 404.98 L503.7 408.39 L505.2 408.39 L505.2 406.43 L506.2 406.43 L506.2 403.48 L507.4 403.48 L507.4 403.36 L508.6 403.36 L508.6 406.8 L509.8 406.8 L509.8 409.15 L511 409.15 L511 409.54 L512.2 409.54 L512.2 410.25 L513 410.25 L513 416.5 Z" fill="#6cb03c"/>
<rect x="25" y="416" width="488" height="1" fill="#5a5a5a"/>
<path d="M27 411 C27 395.52 208 395.52 208 409.5" fill="none" stroke="#629c3a" stroke-width="1.5" opacity="1"/>
<rect x="111.54" y="392.32" width="10.43" height="12.66" fill="#fff"/>
<text x="117.1" y="403.95" font-family="Liberation Sans, sans-serif" font-size="14.8" text-anchor="middle" letter-spacing="0.5" fill="#49752b" opacity="1">7</text>
<path d="M212 416.5 C212 432.37 418 432.37 418 416.5" fill="none" stroke="#629c3a" stroke-width="3" opacity="1"/>
<rect x="304.12" y="421.87" width="19.16" height="12.66" fill="#fff"/>
<text x="314.05" y="433.5" font-family="Liberation Sans, sans-serif" font-size="14.8" text-anchor="middle" letter-spacing="0.5" fill="#49752b" opacity="1">34</text>
<path d="M424.3 408.5 C424.3 394.95 461.3 394.95 461.3 409" fill="none" stroke="#629c3a" stroke-width="2" opacity="1"/>
<rect x="432.3" y="391.37" width="18.8" height="12.66" fill="#fff"/>
<text x="442.7" y="402.7" font-family="Liberation Serif, serif" font-size="14.8" text-anchor="middle" letter-spacing="1.8" fill="#49752b" opacity="1">15</text>
<text x="270.6" y="396.6" font-family="Liberation Sans, sans-serif" font-size="8.5" text-anchor="middle" fill="#222">ccb060013</text>
<rect x="24.3" y="460.7" width="1.2" height="14.8" fill="#a4561e"/>
<rect x="25.5" y="467.5" width="2.5" height="8" fill="#a4561e"/>
<path d="M48 475.5 L48 471.15 L49.5 471.15 L49.5 471.03 L50.7 471.03 L50.7 472.49 L51.9 472.49 L51.9 471.37 L52.7 471.37 L52.7 470.61 L54.2 470.61 L54.2 471.12 L55 471.12 L55 475.5 Z" fill="#a4561e"/>
<path d="M60 475.5 L60 472.3 L61.2 472.3 L61.2 471.5 L62.2 471.5 L62.2 472.28 L63 472.28 L63 472.73 L64 472.73 L64 473.3 L65.2 473.3 L65.2 471.67 L66.2 471.67 L66.2 472.99 L67 472.99 L67 475.5 Z" fill="#a4561e"/>
<path d="M88 475.5 L88 472.37 L89.5 472.37 L89.5 472.75 L90.7 472.75 L90.7 472.77 L91.5 472.77 L91.5 472.77 L93 472.77 L93 472.96 L94.5 472.96 L94.5 473.22 L95.5 473.22 L95.5 471.97 L96.5 471.97 L96.5 472.22 L97.3 472.22 L97.3 472.29 L98.1 472.29 L98.1 472.54 L99.6 472.54 L99.6 472.49 L101.1 472.49 L101.1 472.27 L102 472.27 L102 475.5 Z" fill="#a4561e"/>
<rect x="118" y="472.5" width="3" height="3" fill="#a4561e"/>
<path d="M135 475.5 L135 470.31 L136.5 470.31 L136.5 468.75 L137.5 468.75 L137.5 469.8 L138.5 469.8 L138.5 468.56 L139.3 468.56 L139.3 470.31 L140.3 470.31 L140.3 471.13 L141 471.13 L141 475.5 Z" fill="#a4561e"/>
<path d="M150 475.5 L150 471.61 L151 471.61 L151 472.4 L152.2 472.4 L152.2 471.69 L153.2 471.69 L153.2 471.52 L154.7 471.52 L154.7 473.07 L155.7 473.07 L155.7 472.5 L157.2 472.5 L157.2 472.47 L158.7 472.47 L158.7 472.99 L159.5 472.99 L159.5 472.32 L160.3 472.32 L160.3 472.87 L161.5 472.87 L161.5 473.07 L163 473.07 L163 472.94 L163.8 472.94 L163.8 473.09 L164.6 473.09 L164.6 473.01 L166 473.01 L166 475.5 Z" fill="#a4561e"/>
<path d="M213 475.5 L213 472.16 L214 472.16 L214 473.44 L215.2 473.44 L215.2 473.23 L216 473.23 L216 472.35 L217.2 472.35 L217.2 472.78 L218.2 472.78 L218.2 473.9 L219.7 473.9 L219.7 472.27 L220.9 472.27 L220.9 472.03 L221.9 472.03 L221.9 472.26 L223.1 472.26 L223.1 472.32 L223.9 472.32 L223.9 473.49 L225.1 473.49 L225.1 473.21 L226.1 473.21 L226.1 472.09 L227.1 472.09 L227.1 472.99 L227.9 472.99 L227.9 473.79 L229.1 473.79 L229.1 473.37 L230.6 473.37 L230.6 472.24 L231.8 472.24 L231.8 473 L232.8 473 L232.8 473.28 L233.8 473.28 L233.8 473.69 L234.6 473.69 L234.6 472.47 L236.1 472.47 L236.1 473.4 L237.1 473.4 L237.1 472.68 L237.9 472.68 L237.9 473.85 L238.7 473.85 L238.7 473.21 L239.9 473.21 L239.9 473.45 L240.9 473.45 L240.9 473.67 L241.7 473.67 L241.7 472.69 L242.9 472.69 L242.9 473.09 L243.7 473.09 L243.7 472.79 L244.9 472.79 L244.9 472.93 L245.7 472.93 L245.7 471.9 L247.2 471.9 L247.2 472.93 L248.2 472.93 L248.2 472.33 L249 472.33 L249 472.2 L250.2 472.2 L250.2 473.34 L251.7 473.34 L251.7 472.21 L252.7 472.21 L252.7 472.95 L254.2 472.95 L254.2 472.44 L255.4 472.44 L255.4 472.94 L256.6 472.94 L256.6 472.83 L258.1 472.83 L258.1 472.96 L258.9 472.96 L258.9 473.53 L260.1 473.53 L260.1 472.58 L260.9 472.58 L260.9 473.55 L261.9 473.55 L261.9 473.27 L263.1 473.27 L263.1 472.82 L264.3 472.82 L264.3 472.21 L265.3 472.21 L265.3 471.94 L266.1 471.94 L266.1 471.93 L266.9 471.93 L266.9 473.69 L267.9 473.69 L267.9 473.2 L269.4 473.2 L269.4 472.31 L270.9 472.31 L270.9 472.55 L272.4 472.55 L272.4 473.68 L273.2 473.68 L273.2 472.57 L274 472.57 L274 472.24 L275 472.24 L275 473.73 L276.2 473.73 L276.2 473.84 L277.4 473.84 L277.4 473.8 L278.4 473.8 L278.4 473.82 L279.9 473.82 L279.9 473.25 L280.9 473.25 L280.9 472.41 L282.4 472.41 L282.4 472.37 L283.6 472.37 L283.6 472.18 L284.4 472.18 L284.4 473.47 L285.2 473.47 L285.2 473.64 L286.7 473.64 L286.7 473.01 L287.9 473.01 L287.9 472.56 L289.4 472.56 L289.4 472.66 L290.4 472.66 L290.4 472.18 L291.6 472.18 L291.6 473.74 L292.8 473.74 L292.8 472.81 L293 472.81 L293 475.5 Z" fill="#a4561e"/>
<rect x="293" y="471" width="4" height="4.5" fill="#a4561e"/>
<path d="M297 475.5 L297 473.29 L298.2 473.29 L298.2 473.56 L299.7 473.56 L299.7 473.49 L300.9 473.49 L300.9 472.83 L302.1 472.83 L302.1 473.49 L303.1 473.49 L303.1 473.64 L303.9 473.64 L303.9 472.88 L305.4 472.88 L305.4 473.33 L306 473.33 L306 475.5 Z" fill="#a4561e"/>
<rect x="315" y="473.5" width="1" height="2" fill="#a4561e"/>
<rect x="318" y="473.5" width="1" height="2" fill="#a4561e"/>
<rect x="340" y="473.5" width="1" height="2" fill="#a4561e"/>
<path d="M347 475.5 L347 471.86 L348.5 471.86 L348.5 472.25 L349.3 472.25 L349.3 472.3 L350.1 472.3 L350.1 472.62 L351.3 472.62 L351.3 472.2 L352.1 472.2 L352.1 472.44 L353.6 472.44 L353.6 472.26 L354.8 472.26 L354.8 472.43 L356.3 472.43 L356.3 471.95 L357.8 471.95 L357.8 471.81 L358.8 471.81 L358.8 473.33 L360 473.33 L360 471.87 L360.8 471.87 L360.8 472.71 L362.3 472.71 L362.3 473.1 L363.3 473.1 L363.3 472.07 L364.5 472.07 L364.5 473.5 L365.7 473.5 L365.7 471.63 L366.7 471.63 L366.7 472.59 L367.7 472.59 L367.7 472.92 L368.5 472.92 L368.5 471.87 L369.5 471.87 L369.5 473.5 L370.3 473.5 L370.3 472.9 L371.8 472.9 L371.8 471.68 L372.6 471.68 L372.6 471.93 L373.8 471.93 L373.8 472.25 L374.8 472.25 L374.8 472.88 L376.3 472.88 L376.3 472.81 L377.8 472.81 L377.8 473.1 L378.6 473.1 L378.6 472.77 L379.4 472.77 L379.4 472.81 L380.2 472.81 L380.2 473.14 L381 473.14 L381 473.18 L382 473.18 L382 475.5 Z" fill="#a4561e"/>
<path d="M388 475.5 L388 473.41 L388.8 473.41 L388.8 473.21 L390 473.21 L390 473.26 L391 473.26 L391 473.49 L391.8 473.49 L391.8 473.16 L392 473.16 L392 475.5 Z" fill="#a4561e"/>
<rect x="400" y="472" width="5" height="3.5" fill="#a4561e"/>
<path d="M430 475.5 L430 473.22 L431.2 473.22 L431.2 472.38 L432.4 472.38 L432.4 471.78 L433.6 471.78 L433.6 472.34 L434.8 472.34 L434.8 472.59 L435.8 472.59 L435.8 473.38 L437.3 473.38 L437.3 471.82 L438.8 471.82 L438.8 471.55 L439.6 471.55 L439.6 472.66 L440.8 472.66 L440.8 473.25 L442 473.25 L442 471.57 L443 471.57 L443 472.69 L443.8 472.69 L443.8 472.71 L444.6 472.71 L444.6 471.98 L446 471.98 L446 475.5 Z" fill="#a4561e"/>
<path d="M206 475.5 L206 468.5 L206.6 462.5 L207 455.9 L209.4 455.9 L209.6 457.5 L210.2 457.5 L210.4 453.3 L212 453.3 L212.3 470.5 L213 472 L213 475.5 Z" fill="#a4561e"/>
<rect x="417.4" y="466.3" width="6.3" height="9.2" fill="#a4561e"/>
<path d="M462 475.5 L462 459.39 L463.5 459.39 L463.5 461.59 L464.7 461.59 L464.7 458.92 L465.9 458.92 L465.9 459.05 L466.9 459.05 L466.9 460.63 L468.4 460.63 L468.4 461.66 L469.6 461.66 L469.6 461.96 L470.6 461.96 L470.6 461.82 L471.8 461.82 L471.8 461.12 L472.8 461.12 L472.8 459.16 L474 459.16 L474 458.3 L475.2 458.3 L475.2 459.71 L476.2 459.71 L476.2 461.54 L477.7 461.54 L477.7 460.23 L479.2 460.23 L479.2 459.11 L480.4 459.11 L480.4 455.67 L481.9 455.67 L481.9 453.4 L483.4 453.4 L483.4 456.39 L484.6 456.39 L484.6 459.35 L485.6 459.35 L485.6 460.91 L486.8 460.91 L486.8 462.84 L488 462.84 L488 461.87 L489.2 461.87 L489.2 459.18 L490.4 459.18 L490.4 459.43 L491.4 459.43 L491.4 462.68 L492.9 462.68 L492.9 464.8 L494.1 464.8 L494.1 465.24 L495.6 465.24 L495.6 464.62 L496.8 464.62 L496.8 464.99 L498 464.99 L498 465.74 L499.2 465.74 L499.2 465.34 L500.4 465.34 L500.4 462.77 L501.6 462.77 L501.6 462.09 L502.8 462.09 L502.8 464.57 L503.8 464.57 L503.8 465.73 L505 465.73 L505 462.96 L506 462.96 L506 461.07 L507 461.07 L507 462.78 L508.2 462.78 L508.2 465.67 L509.4 465.67 L509.4 466.39 L510.9 466.39 L510.9 467.52 L511.9 467.52 L511.9 468.38 L512.9 468.38 L512.9 468.18 L513 468.18 L513 475.5 Z" fill="#a4561e"/>
<rect x="25" y="475" width="488" height="1" fill="#5a5a5a"/>
<path d="M28 475.5 C28 490.57 206 490.57 206 475.5" fill="none" stroke="#964e1c" stroke-width="2.5" opacity="1"/>
<rect x="107.82" y="479.92" width="19.16" height="12.66" fill="#fff"/>
<text x="117.75" y="491.55" font-family="Liberation Sans, sans-serif" font-size="14.8" text-anchor="middle" letter-spacing="0.5" fill="#703a15" opacity="1">20</text>
<path d="M212 471.8 C212 459.72 420 459.72 420 467.5" fill="none" stroke="#964e1c" stroke-width="2.2" opacity="1"/>
<rect x="304.85" y="446.92" width="18.8" height="12.66" fill="#fff"/>
<text x="315.25" y="458.25" font-family="Liberation Serif, serif" font-size="14.8" text-anchor="middle" letter-spacing="1.8" fill="#703a15" opacity="1">14</text>
<path d="M212 471.8 C212 459.22 461 459.22 461 473.7" fill="none" stroke="#964e1c" stroke-width="2.2" opacity="1"/>
<rect x="325.9" y="454.57" width="18.8" height="12.66" fill="#fff"/>
<text x="336.3" y="465.9" font-family="Liberation Serif, serif" font-size="14.8" text-anchor="middle" letter-spacing="1.8" fill="#703a15" opacity="1">17</text>
<path d="M212 475.5 C212 487.9 248 487.9 248 475.5" fill="none" stroke="#e6d6cc" stroke-width="0.8" opacity="1"/>
<rect x="223.79" y="478.42" width="10.43" height="12.66" fill="#fff"/>
<text x="229.35" y="490.05" font-family="Liberation Sans, sans-serif" font-size="14.8" text-anchor="middle" letter-spacing="0.5" fill="#9a7460" opacity="1">1</text>
<path d="M212 475.5 C212 491.63 588 491.63 588 475.5" fill="none" stroke="#e6d6cc" stroke-width="0.8" opacity="1" clip-path="url(#pc)"/>
<rect x="395.29" y="481.67" width="10.43" height="12.66" fill="#fff"/>
<text x="400.85" y="493.3" font-family="Liberation Sans, sans-serif" font-size="14.8" text-anchor="middle" letter-spacing="0.5" fill="#9a7460" opacity="1">1</text>
<path d="M424 475.5 C424 487.63 461 487.63 461 475.5" fill="none" stroke="#964e1c" stroke-width="2.5" opacity="1"/>
<rect x="431.52" y="477.92" width="19.16" height="12.66" fill="#fff"/>
<text x="441.45" y="489.55" font-family="Liberation Sans, sans-serif" font-size="14.8" text-anchor="middle" letter-spacing="0.5" fill="#703a15" opacity="1">20</text>
<text x="270.6" y="454.8" font-family="Liberation Sans, sans-serif" font-size="8.5" text-anchor="middle" fill="#222">ccb030021</text>
<rect x="24.3" y="526.8" width="3.7" height="7.7" fill="#8e3e9e"/>
<path d="M54.6 534.5 L54.6 532.68 L56.1 532.68 L56.1 532.55 L56.9 532.55 L56.9 533.33 L58.1 533.33 L58.1 533.55 L59.3 533.55 L59.3 533.39 L60.3 533.39 L60.3 532.73 L61.3 532.73 L61.3 532.78 L62.8 532.78 L62.8 533.39 L64.3 533.39 L64.3 533.51 L65.3 533.51 L65.3 533.6 L66.8 533.6 L66.8 533.69 L68 533.69 L68 532.65 L69 532.65 L69 534.5 Z" fill="#8e3e9e"/>
<path d="M70.4 534.5 L70.4 533.15 L71.9 533.15 L71.9 533 L72.7 533 L72.7 533.17 L73.3 533.17 L73.3 534.5 Z" fill="#8e3e9e"/>
<path d="M106.5 534.5 L106.5 532.14 L107.7 532.14 L107.7 531.64 L109.2 531.64 L109.2 531.53 L110.7 531.53 L110.7 531.82 L110.8 531.82 L110.8 534.5 Z" fill="#8e3e9e"/>
<path d="M129.5 534.5 L129.5 533.08 L131 533.08 L131 533.49 L131.8 533.49 L131.8 533.01 L132.6 533.01 L132.6 533.48 L133.8 533.48 L133.8 533.24 L134.8 533.24 L134.8 533.01 L135.3 533.01 L135.3 534.5 Z" fill="#8e3e9e"/>
<path d="M141 534.5 L141 532.71 L141.8 532.71 L141.8 533.55 L142.6 533.55 L142.6 533.05 L143.6 533.05 L143.6 533.5 L144.4 533.5 L144.4 533.17 L145.4 533.17 L145.4 533.53 L146.2 533.53 L146.2 533.68 L146.8 533.68 L146.8 534.5 Z" fill="#8e3e9e"/>
<rect x="152" y="533.5" width="1.5" height="1" fill="#8e3e9e"/>
<path d="M213 534.5 L213 532.43 L213.8 532.43 L213.8 532.73 L214.8 532.73 L214.8 532.45 L216.3 532.45 L216.3 532.97 L217.1 532.97 L217.1 532.61 L217.9 532.61 L217.9 532.53 L218 532.53 L218 534.5 Z" fill="#8e3e9e"/>
<rect x="220" y="533.5" width="2" height="1" fill="#8e3e9e"/>
<rect x="226" y="531" width="6" height="3.5" fill="#8e3e9e"/>
<rect x="243" y="533" width="4" height="1.5" fill="#8e3e9e"/>
<path d="M251 534.5 L251 532.73 L252 532.73 L252 532.87 L253 532.87 L253 532.89 L254.2 532.89 L254.2 532.25 L255.7 532.25 L255.7 532.79 L256.7 532.79 L256.7 532.03 L257.7 532.03 L257.7 532.39 L258.9 532.39 L258.9 531.67 L259.7 531.67 L259.7 532.07 L260.7 532.07 L260.7 531.68 L261.9 531.68 L261.9 532.76 L262 532.76 L262 534.5 Z" fill="#8e3e9e"/>
<path d="M263 534.5 L263 533.14 L263.8 533.14 L263.8 532.8 L264.8 532.8 L264.8 532.83 L265.8 532.83 L265.8 532.94 L267 532.94 L267 532.75 L268.5 532.75 L268.5 533.43 L269.7 533.43 L269.7 533.1 L270.7 533.1 L270.7 533.4 L271.7 533.4 L271.7 533.32 L272.7 533.32 L272.7 533.42 L273.9 533.42 L273.9 532.86 L275 532.86 L275 534.5 Z" fill="#8e3e9e"/>
<path d="M276 534.5 L276 533.48 L277.5 533.48 L277.5 533.43 L279 533.43 L279 533.17 L280 533.17 L280 534.5 Z" fill="#8e3e9e"/>
<rect x="288" y="533" width="4" height="1.5" fill="#8e3e9e"/>
<path d="M298 534.5 L298 532.37 L299 532.37 L299 532.46 L300.5 532.46 L300.5 532.14 L301.5 532.14 L301.5 531.79 L302.7 531.79 L302.7 532.06 L304.2 532.06 L304.2 531.3 L305 531.3 L305 534.5 Z" fill="#8e3e9e"/>
<path d="M310 534.5 L310 532.94 L311.2 532.94 L311.2 533.29 L312 533.29 L312 533.11 L313.2 533.11 L313.2 533.19 L314 533.19 L314 533.28 L314.8 533.28 L314.8 532.89 L315 532.89 L315 534.5 Z" fill="#8e3e9e"/>
<rect x="323" y="523.9" width="3.5" height="10.6" fill="#8e3e9e"/>
<path d="M328 534.5 L328 532.48 L329.5 532.48 L329.5 532.37 L331 532.37 L331 533.23 L332.5 533.23 L332.5 533.1 L333.7 533.1 L333.7 533.03 L334.9 533.03 L334.9 532.88 L335.7 532.88 L335.7 532.59 L336.9 532.59 L336.9 533.1 L338.4 533.1 L338.4 533.19 L339.6 533.19 L339.6 532.66 L340 532.66 L340 534.5 Z" fill="#8e3e9e"/>
<path d="M340 534.5 L340 531.92 L340.8 531.92 L340.8 531.58 L341.6 531.58 L341.6 531.48 L342.8 531.48 L342.8 532.17 L343.8 532.17 L343.8 531.8 L345.3 531.8 L345.3 531.31 L346.5 531.31 L346.5 532.27 L347.5 532.27 L347.5 532.14 L348.3 532.14 L348.3 531.94 L349.8 531.94 L349.8 531.61 L351.3 531.61 L351.3 531.39 L352.8 531.39 L352.8 531.02 L354 531.02 L354 531.31 L355.5 531.31 L355.5 532.38 L356.7 532.38 L356.7 531.18 L357.9 531.18 L357.9 531.13 L358 531.13 L358 534.5 Z" fill="#8e3e9e"/>
<path d="M370 534.5 L370 533.46 L371.5 533.46 L371.5 533.42 L372.7 533.42 L372.7 533.66 L373.9 533.66 L373.9 533.52 L374.9 533.52 L374.9 533.64 L376 533.64 L376 534.5 Z" fill="#8e3e9e"/>
<path d="M387 534.5 L387 531.33 L387.8 531.33 L387.8 532.08 L389.3 532.08 L389.3 531.9 L390.8 531.9 L390.8 531.14 L392 531.14 L392 532.35 L393.2 532.35 L393.2 531.05 L394.2 531.05 L394.2 531.54 L395 531.54 L395 531.27 L396.5 531.27 L396.5 530.78 L398 530.78 L398 534.5 Z" fill="#8e3e9e"/>
<rect x="400" y="533" width="5" height="1.5" fill="#8e3e9e"/>
<path d="M432 534.5 L432 533.26 L433.5 533.26 L433.5 533.29 L434.5 533.29 L434.5 533.05 L436 533.05 L436 533.66 L437.5 533.66 L437.5 533.99 L438.5 533.99 L438.5 533.43 L439.5 533.43 L439.5 533.39 L440.3 533.39 L440.3 533.11 L441.5 533.11 L441.5 533.45 L442.7 533.45 L442.7 533.76 L443.9 533.76 L443.9 533.42 L444.7 533.42 L444.7 533.61 L445.9 533.61 L445.9 533.95 L446.7 533.95 L446.7 533.14 L447.5 533.14 L447.5 534.1 L448.3 534.1 L448.3 533.5 L449.5 533.5 L449.5 533.63 L450.3 533.63 L450.3 534.19 L451.8 534.19 L451.8 533.84 L452.6 533.84 L452.6 533.4 L453.6 533.4 L453.6 534.02 L454.6 534.02 L454.6 534.12 L455.4 534.12 L455.4 533.9 L456 533.9 L456 534.5 Z" fill="#8e3e9e"/>
<path d="M205.7 534.5 L205.7 524.5 L206.4 520.5 L207 517.5 L208.6 517.3 L209.5 519.5 L210.5 521.5 L211.2 525.5 L211.8 530 L213 531.5 L213 534.5 Z" fill="#8e3e9e"/>
<path d="M417.2 534.5 L417.2 531.5 L417.8 526.5 L418.5 522.5 L419.3 519.5 L420 518 L420.2 513 L420.9 513 L421.1 519 L422 521.5 L423 525 L424 529.5 L424.6 532.5 L424.6 534.5 Z" fill="#8e3e9e"/>
<path d="M462 534.5 L462 527.75 L463 527.75 L463 527.32 L464.2 527.32 L464.2 527.23 L465.7 527.23 L465.7 525.46 L466.7 525.46 L466.7 525.33 L467.9 525.33 L467.9 522.69 L469.4 522.69 L469.4 522.37 L470.4 522.37 L470.4 522.66 L471.6 522.66 L471.6 522.38 L472.8 522.38 L472.8 520.12 L474 520.12 L474 519.08 L475 519.08 L475 519.36 L476.2 519.36 L476.2 521.73 L477.4 521.73 L477.4 521.64 L478.4 521.64 L478.4 521.43 L479.6 521.43 L479.6 521.18 L481.1 521.18 L481.1 519.05 L482.1 519.05 L482.1 517.87 L483.1 517.87 L483.1 517.88 L484.1 517.88 L484.1 521.04 L485.6 521.04 L485.6 522.62 L486.8 522.62 L486.8 525.86 L487.8 525.86 L487.8 525.92 L489.3 525.92 L489.3 524.71 L490.8 524.71 L490.8 523.88 L492.3 523.88 L492.3 526.22 L493.3 526.22 L493.3 524.34 L494.8 524.34 L494.8 523.9 L495.8 523.9 L495.8 522.69 L496.8 522.69 L496.8 524.64 L497.8 524.64 L497.8 525.6 L499 525.6 L499 525.51 L500 525.51 L500 524.69 L501.2 524.69 L501.2 524.76 L502.4 524.76 L502.4 526.31 L503.9 526.31 L503.9 525.87 L504.9 525.87 L504.9 525.41 L506.4 525.41 L506.4 524.97 L507.9 524.97 L507.9 526.9 L509.4 526.9 L509.4 528.66 L510.4 528.66 L510.4 528.91 L511.6 528.91 L511.6 529.12 L513 529.12 L513 534.5 Z" fill="#8e3e9e"/>
<rect x="25" y="534" width="488" height="1" fill="#5a5a5a"/>
<path d="M28 519.3 C28 505.03 207 505.03 207 519.3" fill="none" stroke="#7c348e" stroke-width="2.5" opacity="1"/>
<rect x="106.87" y="502.12" width="19.16" height="12.66" fill="#fff"/>
<text x="116.8" y="513.75" font-family="Liberation Sans, sans-serif" font-size="14.8" text-anchor="middle" letter-spacing="0.5" fill="#5d276a" opacity="1">23</text>
<path d="M212 535 C212 550.73 415.3 550.73 415.3 535" fill="none" stroke="#7c348e" stroke-width="1.8" opacity="1"/>
<rect x="308.34" y="540.07" width="10.43" height="12.66" fill="#fff"/>
<text x="313.9" y="551.7" font-family="Liberation Sans, sans-serif" font-size="14.8" text-anchor="middle" letter-spacing="0.5" fill="#5d276a" opacity="1">8</text>
<path d="M424.5 523.5 C424.5 510.72 461.3 510.72 461.3 524.2" fill="none" stroke="#7c348e" stroke-width="2" opacity="1"/>
<rect x="432.5" y="507.27" width="18.8" height="12.66" fill="#fff"/>
<text x="442.9" y="518.6" font-family="Liberation Serif, serif" font-size="14.8" text-anchor="middle" letter-spacing="1.8" fill="#5d276a" opacity="1">15</text>
<text x="270.6" y="511.5" font-family="Liberation Sans, sans-serif" font-size="8.5" text-anchor="middle" fill="#222">ccb020035</text>
<rect x="24.3" y="573.2" width="4.3" height="20.3" fill="#e58418"/>
<rect x="110" y="592.2" width="4" height="1.3" fill="#e58418"/>
<rect x="148" y="592.2" width="4" height="1.3" fill="#e58418"/>
<path d="M226 593.5 L226 592.01 L227.2 592.01 L227.2 591.91 L228.7 591.91 L228.7 592.09 L230.2 592.09 L230.2 592.1 L231.4 592.1 L231.4 592.3 L232.2 592.3 L232.2 592.5 L233.4 592.5 L233.4 592.32 L234.4 592.32 L234.4 592.39 L235.6 592.39 L235.6 592.09 L237.1 592.09 L237.1 592.31 L238 592.31 L238 593.5 Z" fill="#e58418"/>
<path d="M242 593.5 L242 592.14 L243.2 592.14 L243.2 592.08 L244.2 592.08 L244.2 592.25 L245.4 592.25 L245.4 592.03 L246.2 592.03 L246.2 591.99 L247.2 591.99 L247.2 592.35 L248 592.35 L248 591.99 L248.8 591.99 L248.8 592.21 L249.6 592.21 L249.6 591.98 L250 591.98 L250 593.5 Z" fill="#e58418"/>
<path d="M253 593.5 L253 592.19 L254.2 592.19 L254.2 591.3 L255.7 591.3 L255.7 591.15 L256.5 591.15 L256.5 591.5 L257.3 591.5 L257.3 591.32 L258.1 591.32 L258.1 591.42 L259.1 591.42 L259.1 591.22 L260.1 591.22 L260.1 592.14 L261.6 592.14 L261.6 591.56 L262.8 591.56 L262.8 591.91 L263.6 591.91 L263.6 591.94 L264.4 591.94 L264.4 592.08 L265.6 592.08 L265.6 592.26 L266.8 592.26 L266.8 592.47 L268 592.47 L268 592.24 L268.8 592.24 L268.8 591.59 L269.8 591.59 L269.8 591.88 L270.6 591.88 L270.6 591.89 L272.1 591.89 L272.1 592.14 L273.6 592.14 L273.6 591.35 L274.8 591.35 L274.8 591.73 L275 591.73 L275 593.5 Z" fill="#e58418"/>
<rect x="283" y="591.5" width="5" height="2" fill="#e58418"/>
<path d="M313 593.5 L313 592.61 L313.8 592.61 L313.8 592.48 L314.8 592.48 L314.8 592.46 L316.3 592.46 L316.3 592.4 L317.1 592.4 L317.1 592.51 L318 592.51 L318 593.5 Z" fill="#e58418"/>
<rect x="343" y="592" width="3" height="1.5" fill="#e58418"/>
<rect x="358" y="592" width="8" height="1.5" fill="#e58418"/>
<rect x="370" y="592" width="6" height="1.5" fill="#e58418"/>
<path d="M388 593.5 L388 591.25 L389.2 591.25 L389.2 590.37 L390.4 590.37 L390.4 590.26 L391.6 590.26 L391.6 590.84 L392.8 590.84 L392.8 591.03 L394.3 591.03 L394.3 591.46 L395.1 591.46 L395.1 591.29 L396.3 591.29 L396.3 591.06 L397.1 591.06 L397.1 590.83 L398 590.83 L398 593.5 Z" fill="#e58418"/>
<path d="M398 593.5 L398 592.19 L398.8 592.19 L398.8 592.47 L400 592.47 L400 592.33 L401.5 592.33 L401.5 591.94 L402.5 591.94 L402.5 592.41 L403.7 592.41 L403.7 592.21 L404.7 592.21 L404.7 592.46 L405 592.46 L405 593.5 Z" fill="#e58418"/>
<path d="M430 593.5 L430 592.97 L430.8 592.97 L430.8 592.1 L432.3 592.1 L432.3 592.01 L433.5 592.01 L433.5 591.95 L435 591.95 L435 592.59 L436.5 592.59 L436.5 591.93 L438 591.93 L438 591.75 L438.8 591.75 L438.8 592.25 L440 592.25 L440 593.5 Z" fill="#e58418"/>
<path d="M448 593.5 L448 592.12 L449 592.12 L449 591.76 L450 591.76 L450 592.9 L451.2 592.9 L451.2 592.25 L452.4 592.25 L452.4 592.61 L453.9 592.61 L453.9 591.94 L455.1 591.94 L455.1 592.24 L455.9 592.24 L455.9 592.87 L456 592.87 L456 593.5 Z" fill="#e58418"/>
<path d="M206 593.5 L206 580.2 L207 580.2 L207.2 584 L209.6 584 L209.8 583 L212 583 L212 593.5 Z" fill="#e58418"/>
<path d="M416.7 593.5 L416.7 579 Q418 576.5 420.3 576.5 Q423 576.5 424 579 L424 593.5 Z" fill="#e58418"/>
<path d="M462 593.5 L462 580.78 L463.5 580.78 L463.5 579.38 L464.7 579.38 L464.7 579.11 L465.7 579.11 L465.7 578.85 L466.7 578.85 L466.7 578.51 L467.7 578.51 L467.7 577.28 L468.7 577.28 L468.7 578.13 L470.2 578.13 L470.2 578.72 L471.2 578.72 L471.2 578.12 L472.7 578.12 L472.7 577.55 L473.9 577.55 L473.9 575.79 L474.9 575.79 L474.9 574.42 L476.1 574.42 L476.1 574.08 L477.3 574.08 L477.3 575.63 L478.5 575.63 L478.5 577.08 L480 577.08 L480 578.29 L481.5 578.29 L481.5 579.12 L482.7 579.12 L482.7 579.09 L484.2 579.09 L484.2 580.67 L485.7 580.67 L485.7 579.55 L487.2 579.55 L487.2 579.18 L488.7 579.18 L488.7 579.33 L489.7 579.33 L489.7 580.26 L490.9 580.26 L490.9 581.11 L492.1 581.11 L492.1 581.96 L493.6 581.96 L493.6 580.66 L494.8 580.66 L494.8 579.12 L496 579.12 L496 580.39 L497.5 580.39 L497.5 581.93 L498.5 581.93 L498.5 582.57 L499.5 582.57 L499.5 585.61 L500.7 585.61 L500.7 586.88 L501.9 586.88 L501.9 586.92 L503.4 586.92 L503.4 587.09 L504.4 587.09 L504.4 586.47 L505.4 586.47 L505.4 586.58 L506.4 586.58 L506.4 585.56 L507.9 585.56 L507.9 585.94 L509.4 585.94 L509.4 586.88 L510.4 586.88 L510.4 586.48 L511.6 586.48 L511.6 583.61 L512.8 583.61 L512.8 583.81 L513 583.81 L513 593.5 Z" fill="#e58418"/>
<rect x="25" y="593" width="488" height="1" fill="#5a5a5a"/>
<path d="M28 594 C28 608.67 206 608.67 206 594" fill="none" stroke="#da7c18" stroke-width="3.5" opacity="1"/>
<rect x="106.87" y="598.37" width="19.16" height="12.66" fill="#fff"/>
<text x="116.8" y="610" font-family="Liberation Sans, sans-serif" font-size="14.8" text-anchor="middle" letter-spacing="0.5" fill="#a35d12" opacity="1">55</text>
<path d="M212 581.6 C212 565.33 417 565.33 417 581.6" fill="none" stroke="#da7c18" stroke-width="3" opacity="1"/>
<rect x="304.02" y="562.67" width="19.16" height="12.66" fill="#fff"/>
<text x="313.95" y="574.3" font-family="Liberation Sans, sans-serif" font-size="14.8" text-anchor="middle" letter-spacing="0.5" fill="#a35d12" opacity="1">31</text>
<path d="M255 594 C255 608.67 417 608.67 417 594" fill="none" stroke="#f0dcc4" stroke-width="0.8" opacity="1"/>
<rect x="330.69" y="598.67" width="10.43" height="12.66" fill="#fff"/>
<text x="336.25" y="610.3" font-family="Liberation Sans, sans-serif" font-size="14.8" text-anchor="middle" letter-spacing="0.5" fill="#c08850" opacity="1">1</text>
<path d="M424 580 C424 566.4 461 566.4 461 580" fill="none" stroke="#da7c18" stroke-width="3.5" opacity="1"/>
<rect x="431.47" y="562.87" width="19.16" height="12.66" fill="#fff"/>
<text x="441.4" y="574.5" font-family="Liberation Sans, sans-serif" font-size="14.8" text-anchor="middle" letter-spacing="0.5" fill="#a35d12" opacity="1">35</text>
<path d="M424.5 594 C424.5 609.33 590 609.33 590 594" fill="none" stroke="#f0dcc4" stroke-width="0.8" opacity="1" clip-path="url(#pc)"/>
<rect x="501.69" y="598.67" width="10.43" height="12.66" fill="#fff"/>
<text x="507.25" y="610.3" font-family="Liberation Sans, sans-serif" font-size="14.8" text-anchor="middle" letter-spacing="0.5" fill="#c08850" opacity="1">1</text>
<text x="270.6" y="568.5" font-family="Liberation Sans, sans-serif" font-size="8.5" text-anchor="middle" fill="#222">ccb010048</text>
<rect x="24" y="650.5" width="3" height="2" fill="#d682b4"/>
<rect x="206" y="651" width="6" height="1.5" fill="#d682b4"/>
<rect x="306" y="650" width="1.8" height="2.5" fill="#d682b4"/>
<rect x="419.5" y="650" width="4.5" height="2.5" fill="#d682b4"/>
<rect x="422.8" y="640.2" width="1.7" height="12.3" fill="#d682b4"/>
<path d="M205.8 652.5 L205.8 650.7 L208.2 650.7 L208.2 652.5 Z" fill="#d682b4"/>
<path d="M462 652.5 L462 642.68 L463.2 642.68 L463.2 642.23 L464.2 642.23 L464.2 641.48 L465.7 641.48 L465.7 642.21 L466.7 642.21 L466.7 640.78 L467.7 640.78 L467.7 640.7 L468.9 640.7 L468.9 642.16 L470.1 642.16 L470.1 642.73 L471.1 642.73 L471.1 642.06 L472.3 642.06 L472.3 640.36 L473.5 640.36 L473.5 638.31 L475 638.31 L475 639.15 L476 639.15 L476 639.22 L477 639.22 L477 638.96 L478 638.96 L478 637.97 L479.5 637.97 L479.5 635.59 L480.5 635.59 L480.5 636 L481.5 636 L481.5 639.12 L483 639.12 L483 640.82 L484 640.82 L484 641.74 L485.5 641.74 L485.5 640.98 L486.7 640.98 L486.7 640.17 L487.9 640.17 L487.9 638.37 L489.4 638.37 L489.4 638.95 L490.4 638.95 L490.4 641.47 L491.9 641.47 L491.9 643.09 L493.1 643.09 L493.1 645.33 L494.6 645.33 L494.6 644.88 L495.8 644.88 L495.8 644.31 L497.3 644.31 L497.3 643.58 L498.3 643.58 L498.3 643.37 L499.8 643.37 L499.8 644.78 L501.3 644.78 L501.3 647.67 L502.8 647.67 L502.8 648.83 L503.8 648.83 L503.8 650.08 L505 650.08 L505 650.3 L506.5 650.3 L506.5 649.47 L508 649.47 L508 649.8 L509.2 649.8 L509.2 650.47 L510.7 650.47 L510.7 650.7 L512.2 650.7 L512.2 651.28 L513 651.28 L513 652.5 Z" fill="#d98ab6"/>
<rect x="25" y="652" width="488" height="1" fill="#5a5a5a"/>
<path d="M27 653 C27 667.67 206 667.67 206 653" fill="none" stroke="#ca74a6" stroke-width="2" opacity="1"/>
<rect x="106.87" y="657.47" width="19.16" height="12.66" fill="#fff"/>
<text x="116.8" y="669.1" font-family="Liberation Sans, sans-serif" font-size="14.8" text-anchor="middle" letter-spacing="0.5" fill="#97577c" opacity="1">17</text>
<path d="M212 646.8 C212 632.98 417 632.98 417 649.7" fill="none" stroke="#ca74a6" stroke-width="2" opacity="1"/>
<rect x="304.65" y="629.97" width="18.8" height="12.66" fill="#fff"/>
<text x="315.05" y="641.3" font-family="Liberation Serif, serif" font-size="14.8" text-anchor="middle" letter-spacing="1.8" fill="#97577c" opacity="1">18</text>
<path d="M424 652.5 C424 664.23 461 664.23 461 652.5" fill="none" stroke="#ca74a6" stroke-width="3" opacity="1"/>
<rect x="431.52" y="654.77" width="19.16" height="12.66" fill="#fff"/>
<text x="441.45" y="666.4" font-family="Liberation Sans, sans-serif" font-size="14.8" text-anchor="middle" letter-spacing="0.5" fill="#97577c" opacity="1">76</text>
<path d="M448 648 C448 638.9 462 638.9 462 645" fill="none" stroke="#ca74a6" stroke-width="1.5" opacity="1"/>
<rect x="449.09" y="634.47" width="10.43" height="12.66" fill="#fff"/>
<text x="454.65" y="646.1" font-family="Liberation Sans, sans-serif" font-size="14.8" text-anchor="middle" letter-spacing="0.5" fill="#97577c" opacity="1">7</text>
<text x="270.6" y="628.7" font-family="Liberation Sans, sans-serif" font-size="8.5" text-anchor="middle" fill="#222">ccb010036</text>
<rect x="25" y="687.75" width="436" height="1.5" fill="#2e2c5c"/>
<path d="M42.14 686.2 L44.9 688.5 L42.14 690.8" fill="none" stroke="#2e2c5c" stroke-width="1.2" stroke-linejoin="miter"/>
<path d="M74.14 686.2 L76.9 688.5 L74.14 690.8" fill="none" stroke="#2e2c5c" stroke-width="1.2" stroke-linejoin="miter"/>
<path d="M106.39 686.2 L109.15 688.5 L106.39 690.8" fill="none" stroke="#2e2c5c" stroke-width="1.2" stroke-linejoin="miter"/>
<path d="M138.39 686.2 L141.15 688.5 L138.39 690.8" fill="none" stroke="#2e2c5c" stroke-width="1.2" stroke-linejoin="miter"/>
<path d="M170.89 686.2 L173.65 688.5 L170.89 690.8" fill="none" stroke="#2e2c5c" stroke-width="1.2" stroke-linejoin="miter"/>
<path d="M224.89 686.2 L227.65 688.5 L224.89 690.8" fill="none" stroke="#2e2c5c" stroke-width="1.2" stroke-linejoin="miter"/>
<path d="M256.89 686.2 L259.65 688.5 L256.89 690.8" fill="none" stroke="#2e2c5c" stroke-width="1.2" stroke-linejoin="miter"/>
<path d="M288.39 686.2 L291.15 688.5 L288.39 690.8" fill="none" stroke="#2e2c5c" stroke-width="1.2" stroke-linejoin="miter"/>
<path d="M320.89 686.2 L323.65 688.5 L320.89 690.8" fill="none" stroke="#2e2c5c" stroke-width="1.2" stroke-linejoin="miter"/>
<path d="M353.39 686.2 L356.15 688.5 L353.39 690.8" fill="none" stroke="#2e2c5c" stroke-width="1.2" stroke-linejoin="miter"/>
<path d="M385.89 686.2 L388.65 688.5 L385.89 690.8" fill="none" stroke="#2e2c5c" stroke-width="1.2" stroke-linejoin="miter"/>
<path d="M437.39 686.2 L440.15 688.5 L437.39 690.8" fill="none" stroke="#2e2c5c" stroke-width="1.2" stroke-linejoin="miter"/>
<rect x="25" y="685" width="3.75" height="7.5" fill="#2b2d8c"/>
<rect x="206.5" y="685" width="5" height="7.5" fill="#2b2d8c"/>
<rect x="417" y="685" width="7.25" height="7.5" fill="#2b2d8c"/>
<rect x="460.75" y="685" width="23.75" height="7.5" fill="#2b2d8c"/>
</svg>
</body></html>
